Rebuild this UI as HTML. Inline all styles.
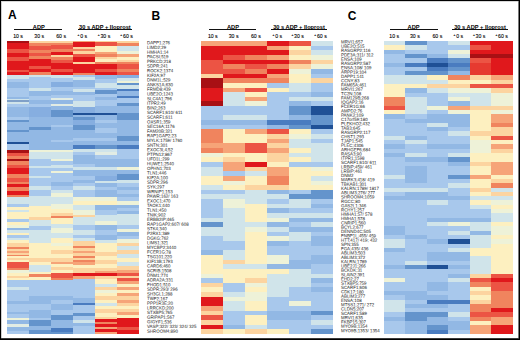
<!DOCTYPE html>
<html><head><meta charset="utf-8"><style>
html,body{margin:0;padding:0;background:#fff;}
body{width:520px;height:340px;position:relative;overflow:hidden;font-family:"Liberation Sans",sans-serif;color:#000;}
.hm{position:absolute;left:0;top:0;filter:blur(0.45px);}
.bd{position:absolute;background:#000;}
.L{position:absolute;font-weight:bold;font-size:12px;line-height:12px;white-space:nowrap;}
.H{position:absolute;top:23.6px;font-weight:bold;font-size:5.7px;line-height:6px;white-space:nowrap;}
.S{position:absolute;top:33.4px;font-size:5.2px;-webkit-text-stroke:0.1px #000;line-height:6px;white-space:nowrap;}
.S sup{font-size:3.2px;vertical-align:2px;line-height:0;margin-right:0.8px;}
.c{transform:translateX(-50%);}
.ln{position:absolute;top:28.6px;height:0.9px;background:#111;}
.lb{position:absolute;top:0;font-size:4.6px;line-height:4px;white-space:nowrap;color:#1a1a1a;transform-origin:0 0;}
.lbw{position:absolute;left:0;top:0;width:520px;height:340px;}
</style></head><body>
<svg class="hm" width="520" height="340" viewBox="0 0 520 340" shape-rendering="crispEdges">
<rect x="7" y="41" width="22.02" height="1.52" fill="#a81014"/>
<rect x="7" y="42.5" width="22.02" height="4.52" fill="#e0181c"/>
<rect x="7" y="47" width="22.02" height="2.02" fill="#e0181c"/>
<rect x="7" y="49" width="22.02" height="4.02" fill="#ec5444"/>
<rect x="7" y="53" width="22.02" height="4.02" fill="#e0181c"/>
<rect x="7" y="57" width="22.02" height="4.02" fill="#ec5444"/>
<rect x="7" y="61" width="22.02" height="2.02" fill="#e0181c"/>
<rect x="7" y="63" width="22.02" height="3.02" fill="#e0181c"/>
<rect x="7" y="66" width="22.02" height="4.02" fill="#e0181c"/>
<rect x="7" y="70" width="22.02" height="2.02" fill="#ec5444"/>
<rect x="7" y="72" width="22.02" height="3.02" fill="#e0181c"/>
<rect x="7" y="75" width="22.02" height="4.02" fill="#d0e4ea"/>
<rect x="7" y="79" width="22.02" height="3.02" fill="#a8c8ec"/>
<rect x="7" y="82" width="22.02" height="6.02" fill="#92b8e4"/>
<rect x="7" y="88" width="22.02" height="9.02" fill="#a8c8ec"/>
<rect x="7" y="97" width="22.02" height="1.52" fill="#92b8e4"/>
<rect x="7" y="98.5" width="22.02" height="1.52" fill="#d0e4ea"/>
<rect x="7" y="100" width="22.02" height="2.02" fill="#7fa0c8"/>
<rect x="7" y="102" width="22.02" height="2.02" fill="#d0e4ea"/>
<rect x="7" y="104" width="22.02" height="3.02" fill="#a8c8ec"/>
<rect x="7" y="107" width="22.02" height="10.02" fill="#92b8e4"/>
<rect x="7" y="117" width="22.02" height="3.02" fill="#a8c8ec"/>
<rect x="7" y="120" width="22.02" height="2.02" fill="#6494cc"/>
<rect x="7" y="122" width="22.02" height="8.02" fill="#92b8e4"/>
<rect x="7" y="130" width="22.02" height="1.52" fill="#6494cc"/>
<rect x="7" y="131.5" width="22.02" height="10.52" fill="#92b8e4"/>
<rect x="7" y="142" width="22.02" height="2.02" fill="#1f5096"/>
<rect x="7" y="144" width="22.02" height="6.02" fill="#a8c8ec"/>
<rect x="7" y="150" width="22.02" height="3.02" fill="#a81014"/>
<rect x="7" y="153" width="22.02" height="3.02" fill="#ec5444"/>
<rect x="7" y="156" width="22.02" height="3.02" fill="#f0845e"/>
<rect x="7" y="159" width="22.02" height="2.02" fill="#a81014"/>
<rect x="7" y="161" width="22.02" height="4.02" fill="#f0845e"/>
<rect x="7" y="165" width="22.02" height="3.02" fill="#ec5444"/>
<rect x="7" y="168" width="22.02" height="6.02" fill="#e0181c"/>
<rect x="7" y="174" width="22.02" height="4.02" fill="#f0845e"/>
<rect x="7" y="178" width="22.02" height="4.02" fill="#ec5444"/>
<rect x="7" y="182" width="22.02" height="2.02" fill="#f0845e"/>
<rect x="7" y="184" width="22.02" height="3.02" fill="#e0181c"/>
<rect x="7" y="187" width="22.02" height="4.02" fill="#f0845e"/>
<rect x="7" y="191" width="22.02" height="4.02" fill="#e0181c"/>
<rect x="7" y="195" width="22.02" height="2.02" fill="#f0845e"/>
<rect x="7" y="197" width="22.02" height="4.02" fill="#d0e4ea"/>
<rect x="7" y="201" width="22.02" height="3.02" fill="#d0e4ea"/>
<rect x="7" y="204" width="22.02" height="3.02" fill="#a8c8ec"/>
<rect x="7" y="207" width="22.02" height="3.02" fill="#fdf0c0"/>
<rect x="7" y="210" width="22.02" height="2.02" fill="#d0e4ea"/>
<rect x="7" y="212" width="22.02" height="7.02" fill="#fdf0c0"/>
<rect x="7" y="219" width="22.02" height="3.02" fill="#a8c8ec"/>
<rect x="7" y="222" width="22.02" height="3.02" fill="#fdf0c0"/>
<rect x="7" y="225" width="22.02" height="3.02" fill="#eef2d8"/>
<rect x="7" y="228" width="22.02" height="2.02" fill="#92b8e4"/>
<rect x="7" y="230" width="22.02" height="3.02" fill="#d0e4ea"/>
<rect x="7" y="233" width="22.02" height="2.02" fill="#fdf0c0"/>
<rect x="7" y="235" width="22.02" height="3.02" fill="#a8c8ec"/>
<rect x="7" y="238" width="22.02" height="2.02" fill="#d0e4ea"/>
<rect x="7" y="240" width="22.02" height="3.02" fill="#fdf0c0"/>
<rect x="7" y="243" width="22.02" height="4.02" fill="#fcd4a0"/>
<rect x="7" y="247" width="22.02" height="2.02" fill="#f0845e"/>
<rect x="7" y="249" width="22.02" height="2.02" fill="#fcd4a0"/>
<rect x="7" y="251" width="22.02" height="2.02" fill="#f6a478"/>
<rect x="7" y="253" width="22.02" height="2.02" fill="#fcd4a0"/>
<rect x="7" y="255" width="22.02" height="1.02" fill="#f0845e"/>
<rect x="7" y="256" width="22.02" height="2.02" fill="#fdf0c0"/>
<rect x="7" y="258" width="22.02" height="2.02" fill="#fcd4a0"/>
<rect x="7" y="260" width="22.02" height="2.02" fill="#fdf0c0"/>
<rect x="7" y="262" width="22.02" height="6.02" fill="#ec5444"/>
<rect x="7" y="268" width="22.02" height="2.02" fill="#f0845e"/>
<rect x="7" y="270" width="22.02" height="3.02" fill="#eef2d8"/>
<rect x="7" y="273" width="22.02" height="3.02" fill="#fdf0c0"/>
<rect x="7" y="276" width="22.02" height="2.02" fill="#fcd4a0"/>
<rect x="7" y="278" width="22.02" height="2.02" fill="#fdf0c0"/>
<rect x="7" y="280" width="22.02" height="4.02" fill="#a8c8ec"/>
<rect x="7" y="284" width="22.02" height="3.02" fill="#a8c8ec"/>
<rect x="7" y="287" width="22.02" height="3.02" fill="#d0e4ea"/>
<rect x="7" y="290" width="22.02" height="11.02" fill="#a8c8ec"/>
<rect x="7" y="301" width="22.02" height="3.02" fill="#92b8e4"/>
<rect x="7" y="304" width="22.02" height="8.02" fill="#a8c8ec"/>
<rect x="7" y="312" width="22.02" height="2.02" fill="#92b8e4"/>
<rect x="7" y="314" width="22.02" height="4.02" fill="#a8c8ec"/>
<rect x="7" y="318" width="22.02" height="2.02" fill="#eef2d8"/>
<rect x="7" y="320" width="22.02" height="4.02" fill="#92b8e4"/>
<rect x="7" y="324" width="22.02" height="3.02" fill="#e2ece4"/>
<rect x="7" y="327" width="22.02" height="4.02" fill="#92b8e4"/>
<rect x="7" y="331" width="22.02" height="3.02" fill="#a8c8ec"/>
<rect x="29" y="41" width="22.02" height="2.02" fill="#fcd4a0"/>
<rect x="29" y="43" width="22.02" height="3.02" fill="#f0845e"/>
<rect x="29" y="46" width="22.02" height="4.02" fill="#ec5444"/>
<rect x="29" y="50" width="22.02" height="3.02" fill="#f0845e"/>
<rect x="29" y="53" width="22.02" height="3.02" fill="#ec5444"/>
<rect x="29" y="56" width="22.02" height="3.02" fill="#f0845e"/>
<rect x="29" y="59" width="22.02" height="7.02" fill="#e0181c"/>
<rect x="29" y="66" width="22.02" height="3.02" fill="#ec5444"/>
<rect x="29" y="69" width="22.02" height="3.02" fill="#e0181c"/>
<rect x="29" y="72" width="22.02" height="3.02" fill="#f0845e"/>
<rect x="29" y="75" width="22.02" height="2.02" fill="#d0e4ea"/>
<rect x="29" y="77" width="22.02" height="5.02" fill="#a8c8ec"/>
<rect x="29" y="82" width="22.02" height="6.02" fill="#a8c8ec"/>
<rect x="29" y="88" width="22.02" height="3.02" fill="#d0e4ea"/>
<rect x="29" y="91" width="22.02" height="5.02" fill="#92b8e4"/>
<rect x="29" y="96" width="22.02" height="4.02" fill="#a8c8ec"/>
<rect x="29" y="100" width="22.02" height="4.02" fill="#92b8e4"/>
<rect x="29" y="104" width="22.02" height="3.02" fill="#a8c8ec"/>
<rect x="29" y="107" width="22.02" height="10.02" fill="#86aee0"/>
<rect x="29" y="117" width="22.02" height="10.02" fill="#92b8e4"/>
<rect x="29" y="127" width="22.02" height="3.02" fill="#6494cc"/>
<rect x="29" y="130" width="22.02" height="20.02" fill="#92b8e4"/>
<rect x="29" y="150" width="22.02" height="2.02" fill="#eef2d8"/>
<rect x="29" y="152" width="22.02" height="7.02" fill="#d0e4ea"/>
<rect x="29" y="159" width="22.02" height="7.02" fill="#a8c8ec"/>
<rect x="29" y="166" width="22.02" height="2.02" fill="#d0e4ea"/>
<rect x="29" y="168" width="22.02" height="8.02" fill="#a8c8ec"/>
<rect x="29" y="176" width="22.02" height="2.02" fill="#d0e4ea"/>
<rect x="29" y="178" width="22.02" height="4.02" fill="#a8c8ec"/>
<rect x="29" y="182" width="22.02" height="4.02" fill="#a8c8ec"/>
<rect x="29" y="186" width="22.02" height="4.02" fill="#d0e4ea"/>
<rect x="29" y="190" width="22.02" height="6.02" fill="#a8c8ec"/>
<rect x="29" y="196" width="22.02" height="5.02" fill="#d0e4ea"/>
<rect x="29" y="201" width="22.02" height="5.02" fill="#d0e4ea"/>
<rect x="29" y="206" width="22.02" height="11.02" fill="#fdf0c0"/>
<rect x="29" y="217" width="22.02" height="3.02" fill="#fcd4a0"/>
<rect x="29" y="220" width="22.02" height="6.02" fill="#d0e4ea"/>
<rect x="29" y="226" width="22.02" height="4.02" fill="#a8c8ec"/>
<rect x="29" y="230" width="22.02" height="13.02" fill="#d0e4ea"/>
<rect x="29" y="243" width="22.02" height="15.02" fill="#fdf0c0"/>
<rect x="29" y="258" width="22.02" height="4.02" fill="#fcd4a0"/>
<rect x="29" y="262" width="22.02" height="3.02" fill="#fdf0c0"/>
<rect x="29" y="265" width="22.02" height="7.02" fill="#d0e4ea"/>
<rect x="29" y="272" width="22.02" height="2.02" fill="#fdf0c0"/>
<rect x="29" y="274" width="22.02" height="3.02" fill="#f0845e"/>
<rect x="29" y="277" width="22.02" height="3.02" fill="#fdf0c0"/>
<rect x="29" y="280" width="22.02" height="4.02" fill="#a8c8ec"/>
<rect x="29" y="284" width="22.02" height="12.02" fill="#a8c8ec"/>
<rect x="29" y="296" width="22.02" height="8.02" fill="#92b8e4"/>
<rect x="29" y="304" width="22.02" height="6.02" fill="#a8c8ec"/>
<rect x="29" y="310" width="22.02" height="8.02" fill="#92b8e4"/>
<rect x="29" y="318" width="22.02" height="2.02" fill="#a8c8ec"/>
<rect x="29" y="320" width="22.02" height="6.02" fill="#6494cc"/>
<rect x="29" y="326" width="22.02" height="4.02" fill="#92b8e4"/>
<rect x="29" y="330" width="22.02" height="4.02" fill="#6494cc"/>
<rect x="51" y="41" width="22.02" height="2.02" fill="#fcd4a0"/>
<rect x="51" y="43" width="22.02" height="2.02" fill="#f0845e"/>
<rect x="51" y="45" width="22.02" height="4.02" fill="#ec5444"/>
<rect x="51" y="49" width="22.02" height="3.02" fill="#f0845e"/>
<rect x="51" y="52" width="22.02" height="3.02" fill="#e0181c"/>
<rect x="51" y="55" width="22.02" height="2.02" fill="#fcd4a0"/>
<rect x="51" y="57" width="22.02" height="3.02" fill="#f0845e"/>
<rect x="51" y="60" width="22.02" height="3.02" fill="#ec5444"/>
<rect x="51" y="63" width="22.02" height="6.02" fill="#e0181c"/>
<rect x="51" y="69" width="22.02" height="3.02" fill="#ec5444"/>
<rect x="51" y="72" width="22.02" height="3.02" fill="#e0181c"/>
<rect x="51" y="75" width="22.02" height="3.02" fill="#d0e4ea"/>
<rect x="51" y="78" width="22.02" height="4.02" fill="#a8c8ec"/>
<rect x="51" y="82" width="22.02" height="5.02" fill="#86aee0"/>
<rect x="51" y="87" width="22.02" height="4.02" fill="#a8c8ec"/>
<rect x="51" y="91" width="22.02" height="4.02" fill="#92b8e4"/>
<rect x="51" y="95" width="22.02" height="3.02" fill="#a8c8ec"/>
<rect x="51" y="98" width="22.02" height="2.02" fill="#e2ece4"/>
<rect x="51" y="100" width="22.02" height="4.02" fill="#92b8e4"/>
<rect x="51" y="104" width="22.02" height="2.02" fill="#e2ece4"/>
<rect x="51" y="106" width="22.02" height="4.02" fill="#92b8e4"/>
<rect x="51" y="110" width="22.02" height="7.02" fill="#6494cc"/>
<rect x="51" y="117" width="22.02" height="8.02" fill="#92b8e4"/>
<rect x="51" y="125" width="22.02" height="2.02" fill="#a8c8ec"/>
<rect x="51" y="127" width="22.02" height="13.02" fill="#92b8e4"/>
<rect x="51" y="140" width="22.02" height="2.02" fill="#a8c8ec"/>
<rect x="51" y="142" width="22.02" height="8.02" fill="#92b8e4"/>
<rect x="51" y="150" width="22.02" height="2.02" fill="#eef2d8"/>
<rect x="51" y="152" width="22.02" height="7.02" fill="#d0e4ea"/>
<rect x="51" y="159" width="22.02" height="2.02" fill="#eef2d8"/>
<rect x="51" y="161" width="22.02" height="4.02" fill="#a8c8ec"/>
<rect x="51" y="165" width="22.02" height="3.02" fill="#d0e4ea"/>
<rect x="51" y="168" width="22.02" height="3.02" fill="#a8c8ec"/>
<rect x="51" y="171" width="22.02" height="2.02" fill="#eef2d8"/>
<rect x="51" y="173" width="22.02" height="9.02" fill="#a8c8ec"/>
<rect x="51" y="182" width="22.02" height="4.02" fill="#92b8e4"/>
<rect x="51" y="186" width="22.02" height="4.02" fill="#a8c8ec"/>
<rect x="51" y="190" width="22.02" height="3.02" fill="#d0e4ea"/>
<rect x="51" y="193" width="22.02" height="4.02" fill="#eef2d8"/>
<rect x="51" y="197" width="22.02" height="4.02" fill="#d0e4ea"/>
<rect x="51" y="201" width="22.02" height="3.02" fill="#d0e4ea"/>
<rect x="51" y="204" width="22.02" height="5.02" fill="#eef2d8"/>
<rect x="51" y="209" width="22.02" height="4.02" fill="#fdf0c0"/>
<rect x="51" y="213" width="22.02" height="3.02" fill="#fcd4a0"/>
<rect x="51" y="216" width="22.02" height="2.02" fill="#f0845e"/>
<rect x="51" y="218" width="22.02" height="6.02" fill="#fdf0c0"/>
<rect x="51" y="224" width="22.02" height="4.02" fill="#d0e4ea"/>
<rect x="51" y="228" width="22.02" height="5.02" fill="#eef2d8"/>
<rect x="51" y="233" width="22.02" height="5.02" fill="#d0e4ea"/>
<rect x="51" y="238" width="22.02" height="5.02" fill="#fdf0c0"/>
<rect x="51" y="243" width="22.02" height="3.02" fill="#eef2d8"/>
<rect x="51" y="246" width="22.02" height="4.02" fill="#fdf0c0"/>
<rect x="51" y="250" width="22.02" height="4.02" fill="#fcd4a0"/>
<rect x="51" y="254" width="22.02" height="4.02" fill="#fdf0c0"/>
<rect x="51" y="258" width="22.02" height="4.02" fill="#fcd4a0"/>
<rect x="51" y="262" width="22.02" height="2.02" fill="#f6a478"/>
<rect x="51" y="264" width="22.02" height="3.02" fill="#fdf0c0"/>
<rect x="51" y="267" width="22.02" height="3.02" fill="#fcd4a0"/>
<rect x="51" y="270" width="22.02" height="3.02" fill="#fdf0c0"/>
<rect x="51" y="273" width="22.02" height="5.02" fill="#ec5444"/>
<rect x="51" y="278" width="22.02" height="2.02" fill="#f0845e"/>
<rect x="51" y="280" width="22.02" height="4.02" fill="#a8c8ec"/>
<rect x="51" y="284" width="22.02" height="12.02" fill="#a8c8ec"/>
<rect x="51" y="296" width="22.02" height="4.02" fill="#92b8e4"/>
<rect x="51" y="300" width="22.02" height="4.02" fill="#a8c8ec"/>
<rect x="51" y="304" width="22.02" height="6.02" fill="#92b8e4"/>
<rect x="51" y="310" width="22.02" height="5.02" fill="#a8c8ec"/>
<rect x="51" y="315" width="22.02" height="5.02" fill="#6494cc"/>
<rect x="51" y="320" width="22.02" height="8.02" fill="#92b8e4"/>
<rect x="51" y="328" width="22.02" height="4.02" fill="#4a7cc0"/>
<rect x="51" y="332" width="22.02" height="2.02" fill="#6494cc"/>
<rect x="73" y="41" width="22.02" height="1.02" fill="#f6a478"/>
<rect x="73" y="42" width="22.02" height="5.02" fill="#e0181c"/>
<rect x="73" y="47" width="22.02" height="2.02" fill="#fcd4a0"/>
<rect x="73" y="49" width="22.02" height="2.02" fill="#f0845e"/>
<rect x="73" y="51" width="22.02" height="3.02" fill="#fcd4a0"/>
<rect x="73" y="54" width="22.02" height="3.02" fill="#ec5444"/>
<rect x="73" y="57" width="22.02" height="5.02" fill="#e0181c"/>
<rect x="73" y="62" width="22.02" height="2.02" fill="#fcd4a0"/>
<rect x="73" y="64" width="22.02" height="9.02" fill="#e0181c"/>
<rect x="73" y="73" width="22.02" height="2.02" fill="#f0845e"/>
<rect x="73" y="75" width="22.02" height="2.02" fill="#a8c8ec"/>
<rect x="73" y="77" width="22.02" height="3.02" fill="#d0e4ea"/>
<rect x="73" y="80" width="22.02" height="7.02" fill="#92b8e4"/>
<rect x="73" y="87" width="22.02" height="2.02" fill="#a8c8ec"/>
<rect x="73" y="89" width="22.02" height="3.02" fill="#d0e4ea"/>
<rect x="73" y="92" width="22.02" height="3.02" fill="#92b8e4"/>
<rect x="73" y="95" width="22.02" height="6.02" fill="#a8c8ec"/>
<rect x="73" y="101" width="22.02" height="6.02" fill="#d0e4ea"/>
<rect x="73" y="107" width="22.02" height="6.02" fill="#86aee0"/>
<rect x="73" y="113" width="22.02" height="2.02" fill="#1f5096"/>
<rect x="73" y="115" width="22.02" height="2.02" fill="#92b8e4"/>
<rect x="73" y="117" width="22.02" height="3.02" fill="#6494cc"/>
<rect x="73" y="120" width="22.02" height="5.02" fill="#86aee0"/>
<rect x="73" y="125" width="22.02" height="5.02" fill="#6494cc"/>
<rect x="73" y="130" width="22.02" height="8.02" fill="#92b8e4"/>
<rect x="73" y="138" width="22.02" height="3.02" fill="#a8c8ec"/>
<rect x="73" y="141" width="22.02" height="4.02" fill="#92b8e4"/>
<rect x="73" y="145" width="22.02" height="4.02" fill="#4a7cc0"/>
<rect x="73" y="149" width="22.02" height="3.02" fill="#d0e4ea"/>
<rect x="73" y="152" width="22.02" height="3.02" fill="#a8c8ec"/>
<rect x="73" y="155" width="22.02" height="4.02" fill="#92b8e4"/>
<rect x="73" y="159" width="22.02" height="5.02" fill="#92b8e4"/>
<rect x="73" y="164" width="22.02" height="3.02" fill="#a8c8ec"/>
<rect x="73" y="167" width="22.02" height="3.02" fill="#d0e4ea"/>
<rect x="73" y="170" width="22.02" height="6.02" fill="#92b8e4"/>
<rect x="73" y="176" width="22.02" height="4.02" fill="#a8c8ec"/>
<rect x="73" y="180" width="22.02" height="3.02" fill="#92b8e4"/>
<rect x="73" y="183" width="22.02" height="3.02" fill="#a8c8ec"/>
<rect x="73" y="186" width="22.02" height="4.02" fill="#d0e4ea"/>
<rect x="73" y="190" width="22.02" height="7.02" fill="#a8c8ec"/>
<rect x="73" y="197" width="22.02" height="4.02" fill="#eef2d8"/>
<rect x="73" y="201" width="22.02" height="4.02" fill="#fdf0c0"/>
<rect x="73" y="205" width="22.02" height="5.02" fill="#d0e4ea"/>
<rect x="73" y="210" width="22.02" height="5.02" fill="#eef2d8"/>
<rect x="73" y="215" width="22.02" height="2.02" fill="#fcd4a0"/>
<rect x="73" y="217" width="22.02" height="8.02" fill="#d0e4ea"/>
<rect x="73" y="225" width="22.02" height="5.02" fill="#a8c8ec"/>
<rect x="73" y="230" width="22.02" height="5.02" fill="#d0e4ea"/>
<rect x="73" y="235" width="22.02" height="3.02" fill="#a8c8ec"/>
<rect x="73" y="238" width="22.02" height="3.02" fill="#d0e4ea"/>
<rect x="73" y="241" width="22.02" height="2.02" fill="#fcd4a0"/>
<rect x="73" y="243" width="22.02" height="3.02" fill="#fcd4a0"/>
<rect x="73" y="246" width="22.02" height="2.02" fill="#f0845e"/>
<rect x="73" y="248" width="22.02" height="3.02" fill="#fcd4a0"/>
<rect x="73" y="251" width="22.02" height="2.02" fill="#f6a478"/>
<rect x="73" y="253" width="22.02" height="3.02" fill="#fcd4a0"/>
<rect x="73" y="256" width="22.02" height="2.02" fill="#f0845e"/>
<rect x="73" y="258" width="22.02" height="2.02" fill="#fcd4a0"/>
<rect x="73" y="260" width="22.02" height="2.02" fill="#f0845e"/>
<rect x="73" y="262" width="22.02" height="3.02" fill="#f6a478"/>
<rect x="73" y="265" width="22.02" height="3.02" fill="#fdf0c0"/>
<rect x="73" y="268" width="22.02" height="5.02" fill="#fcd4a0"/>
<rect x="73" y="273" width="22.02" height="3.02" fill="#e0181c"/>
<rect x="73" y="276" width="22.02" height="3.02" fill="#f6a478"/>
<rect x="73" y="279" width="22.02" height="5.02" fill="#a8c8ec"/>
<rect x="73" y="284" width="22.02" height="14.02" fill="#a8c8ec"/>
<rect x="73" y="298" width="22.02" height="5.02" fill="#92b8e4"/>
<rect x="73" y="303" width="22.02" height="2.02" fill="#4a7cc0"/>
<rect x="73" y="305" width="22.02" height="8.02" fill="#a8c8ec"/>
<rect x="73" y="313" width="22.02" height="3.02" fill="#6494cc"/>
<rect x="73" y="316" width="22.02" height="4.02" fill="#a8c8ec"/>
<rect x="73" y="320" width="22.02" height="3.02" fill="#d0e4ea"/>
<rect x="73" y="323" width="22.02" height="3.02" fill="#92b8e4"/>
<rect x="73" y="326" width="22.02" height="8.02" fill="#a8c8ec"/>
<rect x="95" y="41" width="22.02" height="1.02" fill="#fcd4a0"/>
<rect x="95" y="42" width="22.02" height="4.02" fill="#ec5444"/>
<rect x="95" y="46" width="22.02" height="6.02" fill="#fdf0c0"/>
<rect x="95" y="52" width="22.02" height="2.02" fill="#f6a478"/>
<rect x="95" y="54" width="22.02" height="3.02" fill="#f0845e"/>
<rect x="95" y="57" width="22.02" height="2.02" fill="#fcd4a0"/>
<rect x="95" y="59" width="22.02" height="3.02" fill="#fdf0c0"/>
<rect x="95" y="62" width="22.02" height="2.02" fill="#f0845e"/>
<rect x="95" y="64" width="22.02" height="5.02" fill="#e0181c"/>
<rect x="95" y="69" width="22.02" height="3.02" fill="#ec5444"/>
<rect x="95" y="72" width="22.02" height="3.02" fill="#e0181c"/>
<rect x="95" y="75" width="22.02" height="4.02" fill="#92b8e4"/>
<rect x="95" y="79" width="22.02" height="4.02" fill="#a8c8ec"/>
<rect x="95" y="83" width="22.02" height="5.02" fill="#d0e4ea"/>
<rect x="95" y="88" width="22.02" height="2.02" fill="#a8c8ec"/>
<rect x="95" y="90" width="22.02" height="4.02" fill="#6494cc"/>
<rect x="95" y="94" width="22.02" height="3.02" fill="#a8c8ec"/>
<rect x="95" y="97" width="22.02" height="3.02" fill="#92b8e4"/>
<rect x="95" y="100" width="22.02" height="6.02" fill="#a8c8ec"/>
<rect x="95" y="106" width="22.02" height="7.02" fill="#92b8e4"/>
<rect x="95" y="113" width="22.02" height="2.02" fill="#1f5096"/>
<rect x="95" y="115" width="22.02" height="2.02" fill="#92b8e4"/>
<rect x="95" y="117" width="22.02" height="3.02" fill="#92b8e4"/>
<rect x="95" y="120" width="22.02" height="3.02" fill="#a8c8ec"/>
<rect x="95" y="123" width="22.02" height="5.02" fill="#92b8e4"/>
<rect x="95" y="128" width="22.02" height="5.02" fill="#a8c8ec"/>
<rect x="95" y="133" width="22.02" height="5.02" fill="#92b8e4"/>
<rect x="95" y="138" width="22.02" height="3.02" fill="#a8c8ec"/>
<rect x="95" y="141" width="22.02" height="4.02" fill="#92b8e4"/>
<rect x="95" y="145" width="22.02" height="4.02" fill="#6494cc"/>
<rect x="95" y="149" width="22.02" height="3.02" fill="#d0e4ea"/>
<rect x="95" y="152" width="22.02" height="3.02" fill="#e2ece4"/>
<rect x="95" y="155" width="22.02" height="4.02" fill="#a8c8ec"/>
<rect x="95" y="159" width="22.02" height="8.02" fill="#92b8e4"/>
<rect x="95" y="167" width="22.02" height="3.02" fill="#d0e4ea"/>
<rect x="95" y="170" width="22.02" height="6.02" fill="#92b8e4"/>
<rect x="95" y="176" width="22.02" height="5.02" fill="#86aee0"/>
<rect x="95" y="181" width="22.02" height="2.02" fill="#d0e4ea"/>
<rect x="95" y="183" width="22.02" height="4.02" fill="#92b8e4"/>
<rect x="95" y="187" width="22.02" height="3.02" fill="#a8c8ec"/>
<rect x="95" y="190" width="22.02" height="7.02" fill="#92b8e4"/>
<rect x="95" y="197" width="22.02" height="4.02" fill="#eef2d8"/>
<rect x="95" y="201" width="22.02" height="4.02" fill="#fdf0c0"/>
<rect x="95" y="205" width="22.02" height="5.02" fill="#92b8e4"/>
<rect x="95" y="210" width="22.02" height="5.02" fill="#a8c8ec"/>
<rect x="95" y="215" width="22.02" height="6.02" fill="#d0e4ea"/>
<rect x="95" y="221" width="22.02" height="4.02" fill="#eef2d8"/>
<rect x="95" y="225" width="22.02" height="5.02" fill="#92b8e4"/>
<rect x="95" y="230" width="22.02" height="5.02" fill="#a8c8ec"/>
<rect x="95" y="235" width="22.02" height="5.02" fill="#92b8e4"/>
<rect x="95" y="240" width="22.02" height="3.02" fill="#d0e4ea"/>
<rect x="95" y="243" width="22.02" height="9.02" fill="#fdf0c0"/>
<rect x="95" y="252" width="22.02" height="4.02" fill="#fcd4a0"/>
<rect x="95" y="256" width="22.02" height="4.02" fill="#fdf0c0"/>
<rect x="95" y="260" width="22.02" height="4.02" fill="#fcd4a0"/>
<rect x="95" y="264" width="22.02" height="4.02" fill="#fdf0c0"/>
<rect x="95" y="268" width="22.02" height="3.02" fill="#fcd4a0"/>
<rect x="95" y="271" width="22.02" height="2.02" fill="#f6a478"/>
<rect x="95" y="273" width="22.02" height="3.02" fill="#e0181c"/>
<rect x="95" y="276" width="22.02" height="3.02" fill="#fcd4a0"/>
<rect x="95" y="279" width="22.02" height="5.02" fill="#fdf0c0"/>
<rect x="95" y="284" width="22.02" height="3.02" fill="#d0e4ea"/>
<rect x="95" y="287" width="22.02" height="3.02" fill="#fcd4a0"/>
<rect x="95" y="290" width="22.02" height="3.02" fill="#eef2d8"/>
<rect x="95" y="293" width="22.02" height="3.02" fill="#fdf0c0"/>
<rect x="95" y="296" width="22.02" height="4.02" fill="#fcd4a0"/>
<rect x="95" y="300" width="22.02" height="3.02" fill="#fdf0c0"/>
<rect x="95" y="303" width="22.02" height="3.02" fill="#d0e4ea"/>
<rect x="95" y="306" width="22.02" height="3.02" fill="#fdf0c0"/>
<rect x="95" y="309" width="22.02" height="4.02" fill="#fcd4a0"/>
<rect x="95" y="313" width="22.02" height="4.02" fill="#fdf0c0"/>
<rect x="95" y="317" width="22.02" height="2.02" fill="#fcd4a0"/>
<rect x="95" y="319" width="22.02" height="3.02" fill="#e0181c"/>
<rect x="95" y="322" width="22.02" height="2.02" fill="#f0845e"/>
<rect x="95" y="324" width="22.02" height="3.02" fill="#e0181c"/>
<rect x="95" y="327" width="22.02" height="2.02" fill="#f6a478"/>
<rect x="95" y="329" width="22.02" height="3.02" fill="#e0181c"/>
<rect x="95" y="332" width="22.02" height="2.02" fill="#f6a478"/>
<rect x="117" y="41" width="22.02" height="1.52" fill="#fcd4a0"/>
<rect x="117" y="42.5" width="22.02" height="3.52" fill="#f0845e"/>
<rect x="117" y="46" width="22.02" height="5.02" fill="#d0e4ea"/>
<rect x="117" y="51" width="22.02" height="3.02" fill="#eef2d8"/>
<rect x="117" y="54" width="22.02" height="3.02" fill="#f6a478"/>
<rect x="117" y="57" width="22.02" height="3.02" fill="#fdf0c0"/>
<rect x="117" y="60" width="22.02" height="2.02" fill="#fcd4a0"/>
<rect x="117" y="62" width="22.02" height="2.02" fill="#f0845e"/>
<rect x="117" y="64" width="22.02" height="5.02" fill="#ec5444"/>
<rect x="117" y="69" width="22.02" height="3.02" fill="#f0845e"/>
<rect x="117" y="72" width="22.02" height="3.02" fill="#ec5444"/>
<rect x="117" y="75" width="22.02" height="3.02" fill="#86aee0"/>
<rect x="117" y="78" width="22.02" height="3.02" fill="#d0e4ea"/>
<rect x="117" y="81" width="22.02" height="2.02" fill="#eef2d8"/>
<rect x="117" y="83" width="22.02" height="2.02" fill="#6494cc"/>
<rect x="117" y="85" width="22.02" height="4.02" fill="#d0e4ea"/>
<rect x="117" y="89" width="22.02" height="2.02" fill="#4a7cc0"/>
<rect x="117" y="91" width="22.02" height="5.02" fill="#92b8e4"/>
<rect x="117" y="96" width="22.02" height="2.02" fill="#4a7cc0"/>
<rect x="117" y="98" width="22.02" height="5.02" fill="#a8c8ec"/>
<rect x="117" y="103" width="22.02" height="3.02" fill="#6494cc"/>
<rect x="117" y="106" width="22.02" height="7.02" fill="#92b8e4"/>
<rect x="117" y="113" width="22.02" height="4.02" fill="#6494cc"/>
<rect x="117" y="117" width="22.02" height="3.02" fill="#6494cc"/>
<rect x="117" y="120" width="22.02" height="16.02" fill="#92b8e4"/>
<rect x="117" y="136" width="22.02" height="5.02" fill="#6494cc"/>
<rect x="117" y="141" width="22.02" height="4.02" fill="#92b8e4"/>
<rect x="117" y="145" width="22.02" height="4.02" fill="#4a7cc0"/>
<rect x="117" y="149" width="22.02" height="10.02" fill="#a8c8ec"/>
<rect x="117" y="159" width="22.02" height="8.02" fill="#92b8e4"/>
<rect x="117" y="167" width="22.02" height="3.02" fill="#eef2d8"/>
<rect x="117" y="170" width="22.02" height="4.02" fill="#92b8e4"/>
<rect x="117" y="174" width="22.02" height="6.02" fill="#6494cc"/>
<rect x="117" y="180" width="22.02" height="3.02" fill="#d0e4ea"/>
<rect x="117" y="183" width="22.02" height="4.02" fill="#a8c8ec"/>
<rect x="117" y="187" width="22.02" height="3.02" fill="#92b8e4"/>
<rect x="117" y="190" width="22.02" height="4.02" fill="#a8c8ec"/>
<rect x="117" y="194" width="22.02" height="3.02" fill="#92b8e4"/>
<rect x="117" y="197" width="22.02" height="4.02" fill="#a8c8ec"/>
<rect x="117" y="201" width="22.02" height="4.02" fill="#eef2d8"/>
<rect x="117" y="205" width="22.02" height="3.02" fill="#92b8e4"/>
<rect x="117" y="208" width="22.02" height="3.02" fill="#a8c8ec"/>
<rect x="117" y="211" width="22.02" height="3.02" fill="#92b8e4"/>
<rect x="117" y="214" width="22.02" height="11.02" fill="#d0e4ea"/>
<rect x="117" y="225" width="22.02" height="4.02" fill="#a8c8ec"/>
<rect x="117" y="229" width="22.02" height="3.02" fill="#eef2d8"/>
<rect x="117" y="232" width="22.02" height="4.02" fill="#92b8e4"/>
<rect x="117" y="236" width="22.02" height="3.02" fill="#a8c8ec"/>
<rect x="117" y="239" width="22.02" height="4.02" fill="#eef2d8"/>
<rect x="117" y="243" width="22.02" height="3.02" fill="#fcd4a0"/>
<rect x="117" y="246" width="22.02" height="4.02" fill="#d0e4ea"/>
<rect x="117" y="250" width="22.02" height="4.02" fill="#fcd4a0"/>
<rect x="117" y="254" width="22.02" height="4.02" fill="#d0e4ea"/>
<rect x="117" y="258" width="22.02" height="4.02" fill="#fdf0c0"/>
<rect x="117" y="262" width="22.02" height="4.02" fill="#d0e4ea"/>
<rect x="117" y="266" width="22.02" height="4.02" fill="#fcd4a0"/>
<rect x="117" y="270" width="22.02" height="3.02" fill="#f6a478"/>
<rect x="117" y="273" width="22.02" height="3.02" fill="#ec5444"/>
<rect x="117" y="276" width="22.02" height="2.02" fill="#fcd4a0"/>
<rect x="117" y="278" width="22.02" height="3.02" fill="#ec5444"/>
<rect x="117" y="281" width="22.02" height="3.02" fill="#f6a478"/>
<rect x="117" y="284" width="22.02" height="3.02" fill="#fdf0c0"/>
<rect x="117" y="287" width="22.02" height="3.02" fill="#f6a478"/>
<rect x="117" y="290" width="22.02" height="3.02" fill="#fdf0c0"/>
<rect x="117" y="293" width="22.02" height="3.02" fill="#f6a478"/>
<rect x="117" y="296" width="22.02" height="4.02" fill="#fcd4a0"/>
<rect x="117" y="300" width="22.02" height="3.02" fill="#f6a478"/>
<rect x="117" y="303" width="22.02" height="3.02" fill="#fcd4a0"/>
<rect x="117" y="306" width="22.02" height="3.02" fill="#fdf0c0"/>
<rect x="117" y="309" width="22.02" height="3.02" fill="#fcd4a0"/>
<rect x="117" y="312" width="22.02" height="3.02" fill="#f6a478"/>
<rect x="117" y="315" width="22.02" height="3.02" fill="#fdf0c0"/>
<rect x="117" y="318" width="22.02" height="9.02" fill="#e0181c"/>
<rect x="117" y="327" width="22.02" height="3.02" fill="#ec5444"/>
<rect x="117" y="330" width="22.02" height="4.02" fill="#e0181c"/>
<rect x="201" y="41" width="22.02" height="4.67" fill="#f6a478"/>
<rect x="223" y="41" width="22.02" height="4.67" fill="#f6a478"/>
<rect x="245" y="41" width="22.02" height="4.67" fill="#f6a478"/>
<rect x="267" y="41" width="22.02" height="4.67" fill="#e0181c"/>
<rect x="289" y="41" width="22.02" height="4.67" fill="#ec5444"/>
<rect x="311" y="41" width="22.02" height="4.67" fill="#d0e4ea"/>
<rect x="201" y="45.65" width="22.02" height="4.67" fill="#e0181c"/>
<rect x="223" y="45.65" width="22.02" height="4.67" fill="#e0181c"/>
<rect x="245" y="45.65" width="22.02" height="4.67" fill="#e0181c"/>
<rect x="267" y="45.65" width="22.02" height="4.67" fill="#f6a478"/>
<rect x="289" y="45.65" width="22.02" height="4.67" fill="#fdf0c0"/>
<rect x="311" y="45.65" width="22.02" height="4.67" fill="#a8c8ec"/>
<rect x="201" y="50.3" width="22.02" height="4.67" fill="#e0181c"/>
<rect x="223" y="50.3" width="22.02" height="4.67" fill="#e0181c"/>
<rect x="245" y="50.3" width="22.02" height="4.67" fill="#e0181c"/>
<rect x="267" y="50.3" width="22.02" height="4.67" fill="#e0181c"/>
<rect x="289" y="50.3" width="22.02" height="4.67" fill="#fcd4a0"/>
<rect x="311" y="50.3" width="22.02" height="4.67" fill="#d0e4ea"/>
<rect x="201" y="54.95" width="22.02" height="4.67" fill="#e0181c"/>
<rect x="223" y="54.95" width="22.02" height="4.67" fill="#ec5444"/>
<rect x="245" y="54.95" width="22.02" height="4.67" fill="#f0845e"/>
<rect x="267" y="54.95" width="22.02" height="4.67" fill="#f6a478"/>
<rect x="289" y="54.95" width="22.02" height="4.67" fill="#fdf0c0"/>
<rect x="311" y="54.95" width="22.02" height="4.67" fill="#eef2d8"/>
<rect x="201" y="59.6" width="22.02" height="4.67" fill="#ec5444"/>
<rect x="223" y="59.6" width="22.02" height="4.67" fill="#e0181c"/>
<rect x="245" y="59.6" width="22.02" height="4.67" fill="#e0181c"/>
<rect x="267" y="59.6" width="22.02" height="4.67" fill="#e0181c"/>
<rect x="289" y="59.6" width="22.02" height="4.67" fill="#f0845e"/>
<rect x="311" y="59.6" width="22.02" height="4.67" fill="#fcd4a0"/>
<rect x="201" y="64.25" width="22.02" height="4.67" fill="#ec5444"/>
<rect x="223" y="64.25" width="22.02" height="4.67" fill="#f0845e"/>
<rect x="245" y="64.25" width="22.02" height="4.67" fill="#ec5444"/>
<rect x="267" y="64.25" width="22.02" height="4.67" fill="#f0845e"/>
<rect x="289" y="64.25" width="22.02" height="4.67" fill="#fcd4a0"/>
<rect x="311" y="64.25" width="22.02" height="4.67" fill="#eef2d8"/>
<rect x="201" y="68.9" width="22.02" height="4.67" fill="#ec5444"/>
<rect x="223" y="68.9" width="22.02" height="4.67" fill="#ec5444"/>
<rect x="245" y="68.9" width="22.02" height="4.67" fill="#f0845e"/>
<rect x="267" y="68.9" width="22.02" height="4.67" fill="#e0181c"/>
<rect x="289" y="68.9" width="22.02" height="4.67" fill="#eef2d8"/>
<rect x="311" y="68.9" width="22.02" height="4.67" fill="#92b8e4"/>
<rect x="201" y="73.56" width="22.02" height="4.67" fill="#fcd4a0"/>
<rect x="223" y="73.56" width="22.02" height="4.67" fill="#e0181c"/>
<rect x="245" y="73.56" width="22.02" height="4.67" fill="#e0181c"/>
<rect x="267" y="73.56" width="22.02" height="4.67" fill="#f6a478"/>
<rect x="289" y="73.56" width="22.02" height="4.67" fill="#fdf0c0"/>
<rect x="311" y="73.56" width="22.02" height="4.67" fill="#a8c8ec"/>
<rect x="201" y="78.21" width="22.02" height="4.67" fill="#a81014"/>
<rect x="223" y="78.21" width="22.02" height="4.67" fill="#f0845e"/>
<rect x="245" y="78.21" width="22.02" height="4.67" fill="#f0845e"/>
<rect x="267" y="78.21" width="22.02" height="4.67" fill="#f0845e"/>
<rect x="289" y="78.21" width="22.02" height="4.67" fill="#fdf0c0"/>
<rect x="311" y="78.21" width="22.02" height="4.67" fill="#fcd4a0"/>
<rect x="201" y="82.86" width="22.02" height="4.67" fill="#a81014"/>
<rect x="223" y="82.86" width="22.02" height="4.67" fill="#fdf0c0"/>
<rect x="245" y="82.86" width="22.02" height="4.67" fill="#fdf0c0"/>
<rect x="267" y="82.86" width="22.02" height="4.67" fill="#a8c8ec"/>
<rect x="289" y="82.86" width="22.02" height="4.67" fill="#d0e4ea"/>
<rect x="311" y="82.86" width="22.02" height="4.67" fill="#a8c8ec"/>
<rect x="201" y="87.51" width="22.02" height="4.67" fill="#e0181c"/>
<rect x="223" y="87.51" width="22.02" height="4.67" fill="#f6a478"/>
<rect x="245" y="87.51" width="22.02" height="4.67" fill="#ec5444"/>
<rect x="267" y="87.51" width="22.02" height="4.67" fill="#fdf0c0"/>
<rect x="289" y="87.51" width="22.02" height="4.67" fill="#d0e4ea"/>
<rect x="311" y="87.51" width="22.02" height="4.67" fill="#a8c8ec"/>
<rect x="201" y="92.16" width="22.02" height="4.67" fill="#e0181c"/>
<rect x="223" y="92.16" width="22.02" height="4.67" fill="#d0e4ea"/>
<rect x="245" y="92.16" width="22.02" height="4.67" fill="#fdf0c0"/>
<rect x="267" y="92.16" width="22.02" height="4.67" fill="#a8c8ec"/>
<rect x="289" y="92.16" width="22.02" height="4.67" fill="#a8c8ec"/>
<rect x="311" y="92.16" width="22.02" height="4.67" fill="#92b8e4"/>
<rect x="201" y="96.81" width="22.02" height="4.67" fill="#e0181c"/>
<rect x="223" y="96.81" width="22.02" height="4.67" fill="#d0e4ea"/>
<rect x="245" y="96.81" width="22.02" height="4.67" fill="#f6a478"/>
<rect x="267" y="96.81" width="22.02" height="4.67" fill="#a8c8ec"/>
<rect x="289" y="96.81" width="22.02" height="4.67" fill="#d0e4ea"/>
<rect x="311" y="96.81" width="22.02" height="4.67" fill="#d0e4ea"/>
<rect x="201" y="101.46" width="22.02" height="4.67" fill="#a81014"/>
<rect x="223" y="101.46" width="22.02" height="4.67" fill="#d0e4ea"/>
<rect x="245" y="101.46" width="22.02" height="4.67" fill="#eef2d8"/>
<rect x="267" y="101.46" width="22.02" height="4.67" fill="#a8c8ec"/>
<rect x="289" y="101.46" width="22.02" height="4.67" fill="#92b8e4"/>
<rect x="311" y="101.46" width="22.02" height="4.67" fill="#a8c8ec"/>
<rect x="201" y="106.11" width="22.02" height="4.67" fill="#a8c8ec"/>
<rect x="223" y="106.11" width="22.02" height="4.67" fill="#a8c8ec"/>
<rect x="245" y="106.11" width="22.02" height="4.67" fill="#a8c8ec"/>
<rect x="267" y="106.11" width="22.02" height="4.67" fill="#a8c8ec"/>
<rect x="289" y="106.11" width="22.02" height="4.67" fill="#6494cc"/>
<rect x="311" y="106.11" width="22.02" height="4.67" fill="#1f5096"/>
<rect x="201" y="110.76" width="22.02" height="4.67" fill="#a8c8ec"/>
<rect x="223" y="110.76" width="22.02" height="4.67" fill="#a8c8ec"/>
<rect x="245" y="110.76" width="22.02" height="4.67" fill="#a8c8ec"/>
<rect x="267" y="110.76" width="22.02" height="4.67" fill="#a8c8ec"/>
<rect x="289" y="110.76" width="22.02" height="4.67" fill="#6494cc"/>
<rect x="311" y="110.76" width="22.02" height="4.67" fill="#1f5096"/>
<rect x="201" y="115.41" width="22.02" height="4.67" fill="#a8c8ec"/>
<rect x="223" y="115.41" width="22.02" height="4.67" fill="#d0e4ea"/>
<rect x="245" y="115.41" width="22.02" height="4.67" fill="#d0e4ea"/>
<rect x="267" y="115.41" width="22.02" height="4.67" fill="#a8c8ec"/>
<rect x="289" y="115.41" width="22.02" height="4.67" fill="#92b8e4"/>
<rect x="311" y="115.41" width="22.02" height="4.67" fill="#6494cc"/>
<rect x="201" y="120.06" width="22.02" height="4.67" fill="#92b8e4"/>
<rect x="223" y="120.06" width="22.02" height="4.67" fill="#92b8e4"/>
<rect x="245" y="120.06" width="22.02" height="4.67" fill="#92b8e4"/>
<rect x="267" y="120.06" width="22.02" height="4.67" fill="#4a7cc0"/>
<rect x="289" y="120.06" width="22.02" height="4.67" fill="#4a7cc0"/>
<rect x="311" y="120.06" width="22.02" height="4.67" fill="#6494cc"/>
<rect x="201" y="124.71" width="22.02" height="4.67" fill="#a8c8ec"/>
<rect x="223" y="124.71" width="22.02" height="4.67" fill="#a8c8ec"/>
<rect x="245" y="124.71" width="22.02" height="4.67" fill="#a8c8ec"/>
<rect x="267" y="124.71" width="22.02" height="4.67" fill="#92b8e4"/>
<rect x="289" y="124.71" width="22.02" height="4.67" fill="#6494cc"/>
<rect x="311" y="124.71" width="22.02" height="4.67" fill="#1f5096"/>
<rect x="201" y="129.37" width="22.02" height="4.67" fill="#f0845e"/>
<rect x="223" y="129.37" width="22.02" height="4.67" fill="#fdf0c0"/>
<rect x="245" y="129.37" width="22.02" height="4.67" fill="#f6a478"/>
<rect x="267" y="129.37" width="22.02" height="4.67" fill="#ec5444"/>
<rect x="289" y="129.37" width="22.02" height="4.67" fill="#fdf0c0"/>
<rect x="311" y="129.37" width="22.02" height="4.67" fill="#a8c8ec"/>
<rect x="201" y="134.02" width="22.02" height="4.67" fill="#f0845e"/>
<rect x="223" y="134.02" width="22.02" height="4.67" fill="#fdf0c0"/>
<rect x="245" y="134.02" width="22.02" height="4.67" fill="#fdf0c0"/>
<rect x="267" y="134.02" width="22.02" height="4.67" fill="#fcd4a0"/>
<rect x="289" y="134.02" width="22.02" height="4.67" fill="#eef2d8"/>
<rect x="311" y="134.02" width="22.02" height="4.67" fill="#d0e4ea"/>
<rect x="201" y="138.67" width="22.02" height="4.67" fill="#f0845e"/>
<rect x="223" y="138.67" width="22.02" height="4.67" fill="#fdf0c0"/>
<rect x="245" y="138.67" width="22.02" height="4.67" fill="#fdf0c0"/>
<rect x="267" y="138.67" width="22.02" height="4.67" fill="#f6a478"/>
<rect x="289" y="138.67" width="22.02" height="4.67" fill="#d0e4ea"/>
<rect x="311" y="138.67" width="22.02" height="4.67" fill="#a8c8ec"/>
<rect x="201" y="143.32" width="22.02" height="4.67" fill="#f6a478"/>
<rect x="223" y="143.32" width="22.02" height="4.67" fill="#f6a478"/>
<rect x="245" y="143.32" width="22.02" height="4.67" fill="#ec5444"/>
<rect x="267" y="143.32" width="22.02" height="4.67" fill="#fcd4a0"/>
<rect x="289" y="143.32" width="22.02" height="4.67" fill="#d0e4ea"/>
<rect x="311" y="143.32" width="22.02" height="4.67" fill="#d0e4ea"/>
<rect x="201" y="147.97" width="22.02" height="4.67" fill="#f0845e"/>
<rect x="223" y="147.97" width="22.02" height="4.67" fill="#f6a478"/>
<rect x="245" y="147.97" width="22.02" height="4.67" fill="#ec5444"/>
<rect x="267" y="147.97" width="22.02" height="4.67" fill="#f6a478"/>
<rect x="289" y="147.97" width="22.02" height="4.67" fill="#fdf0c0"/>
<rect x="311" y="147.97" width="22.02" height="4.67" fill="#d0e4ea"/>
<rect x="201" y="152.62" width="22.02" height="4.67" fill="#eef2d8"/>
<rect x="223" y="152.62" width="22.02" height="4.67" fill="#fdf0c0"/>
<rect x="245" y="152.62" width="22.02" height="4.67" fill="#fdf0c0"/>
<rect x="267" y="152.62" width="22.02" height="4.67" fill="#fcd4a0"/>
<rect x="289" y="152.62" width="22.02" height="4.67" fill="#d0e4ea"/>
<rect x="311" y="152.62" width="22.02" height="4.67" fill="#d0e4ea"/>
<rect x="201" y="157.27" width="22.02" height="4.67" fill="#fdf0c0"/>
<rect x="223" y="157.27" width="22.02" height="4.67" fill="#fcd4a0"/>
<rect x="245" y="157.27" width="22.02" height="4.67" fill="#fdf0c0"/>
<rect x="267" y="157.27" width="22.02" height="4.67" fill="#fcd4a0"/>
<rect x="289" y="157.27" width="22.02" height="4.67" fill="#fdf0c0"/>
<rect x="311" y="157.27" width="22.02" height="4.67" fill="#d0e4ea"/>
<rect x="201" y="161.92" width="22.02" height="4.67" fill="#a8c8ec"/>
<rect x="223" y="161.92" width="22.02" height="4.67" fill="#f6a478"/>
<rect x="245" y="161.92" width="22.02" height="4.67" fill="#e0181c"/>
<rect x="267" y="161.92" width="22.02" height="4.67" fill="#fdf0c0"/>
<rect x="289" y="161.92" width="22.02" height="4.67" fill="#a8c8ec"/>
<rect x="311" y="161.92" width="22.02" height="4.67" fill="#a8c8ec"/>
<rect x="201" y="166.57" width="22.02" height="4.67" fill="#d0e4ea"/>
<rect x="223" y="166.57" width="22.02" height="4.67" fill="#f6a478"/>
<rect x="245" y="166.57" width="22.02" height="4.67" fill="#fcd4a0"/>
<rect x="267" y="166.57" width="22.02" height="4.67" fill="#f6a478"/>
<rect x="289" y="166.57" width="22.02" height="4.67" fill="#fdf0c0"/>
<rect x="311" y="166.57" width="22.02" height="4.67" fill="#eef2d8"/>
<rect x="201" y="171.22" width="22.02" height="4.67" fill="#d0e4ea"/>
<rect x="223" y="171.22" width="22.02" height="4.67" fill="#a8c8ec"/>
<rect x="245" y="171.22" width="22.02" height="4.67" fill="#d0e4ea"/>
<rect x="267" y="171.22" width="22.02" height="4.67" fill="#f6a478"/>
<rect x="289" y="171.22" width="22.02" height="4.67" fill="#fdf0c0"/>
<rect x="311" y="171.22" width="22.02" height="4.67" fill="#fdf0c0"/>
<rect x="201" y="175.87" width="22.02" height="4.67" fill="#fdf0c0"/>
<rect x="223" y="175.87" width="22.02" height="4.67" fill="#f6a478"/>
<rect x="245" y="175.87" width="22.02" height="4.67" fill="#fdf0c0"/>
<rect x="267" y="175.87" width="22.02" height="4.67" fill="#f0845e"/>
<rect x="289" y="175.87" width="22.02" height="4.67" fill="#fdf0c0"/>
<rect x="311" y="175.87" width="22.02" height="4.67" fill="#d0e4ea"/>
<rect x="201" y="180.52" width="22.02" height="4.67" fill="#fdf0c0"/>
<rect x="223" y="180.52" width="22.02" height="4.67" fill="#eef2d8"/>
<rect x="245" y="180.52" width="22.02" height="4.67" fill="#fdf0c0"/>
<rect x="267" y="180.52" width="22.02" height="4.67" fill="#f0845e"/>
<rect x="289" y="180.52" width="22.02" height="4.67" fill="#fdf0c0"/>
<rect x="311" y="180.52" width="22.02" height="4.67" fill="#eef2d8"/>
<rect x="201" y="185.17" width="22.02" height="4.67" fill="#d0e4ea"/>
<rect x="223" y="185.17" width="22.02" height="4.67" fill="#fdf0c0"/>
<rect x="245" y="185.17" width="22.02" height="4.67" fill="#fcd4a0"/>
<rect x="267" y="185.17" width="22.02" height="4.67" fill="#fcd4a0"/>
<rect x="289" y="185.17" width="22.02" height="4.67" fill="#fdf0c0"/>
<rect x="311" y="185.17" width="22.02" height="4.67" fill="#fdf0c0"/>
<rect x="201" y="189.83" width="22.02" height="4.67" fill="#a8c8ec"/>
<rect x="223" y="189.83" width="22.02" height="4.67" fill="#a8c8ec"/>
<rect x="245" y="189.83" width="22.02" height="4.67" fill="#d0e4ea"/>
<rect x="267" y="189.83" width="22.02" height="4.67" fill="#92b8e4"/>
<rect x="289" y="189.83" width="22.02" height="4.67" fill="#a8c8ec"/>
<rect x="311" y="189.83" width="22.02" height="4.67" fill="#6494cc"/>
<rect x="201" y="194.48" width="22.02" height="4.67" fill="#d0e4ea"/>
<rect x="223" y="194.48" width="22.02" height="4.67" fill="#d0e4ea"/>
<rect x="245" y="194.48" width="22.02" height="4.67" fill="#d0e4ea"/>
<rect x="267" y="194.48" width="22.02" height="4.67" fill="#d0e4ea"/>
<rect x="289" y="194.48" width="22.02" height="4.67" fill="#6494cc"/>
<rect x="311" y="194.48" width="22.02" height="4.67" fill="#6494cc"/>
<rect x="201" y="199.13" width="22.02" height="4.67" fill="#a8c8ec"/>
<rect x="223" y="199.13" width="22.02" height="4.67" fill="#eef2d8"/>
<rect x="245" y="199.13" width="22.02" height="4.67" fill="#d0e4ea"/>
<rect x="267" y="199.13" width="22.02" height="4.67" fill="#a8c8ec"/>
<rect x="289" y="199.13" width="22.02" height="4.67" fill="#d0e4ea"/>
<rect x="311" y="199.13" width="22.02" height="4.67" fill="#a8c8ec"/>
<rect x="201" y="203.78" width="22.02" height="4.67" fill="#a8c8ec"/>
<rect x="223" y="203.78" width="22.02" height="4.67" fill="#eef2d8"/>
<rect x="245" y="203.78" width="22.02" height="4.67" fill="#fdf0c0"/>
<rect x="267" y="203.78" width="22.02" height="4.67" fill="#d0e4ea"/>
<rect x="289" y="203.78" width="22.02" height="4.67" fill="#d0e4ea"/>
<rect x="311" y="203.78" width="22.02" height="4.67" fill="#92b8e4"/>
<rect x="201" y="208.43" width="22.02" height="4.67" fill="#a8c8ec"/>
<rect x="223" y="208.43" width="22.02" height="4.67" fill="#d0e4ea"/>
<rect x="245" y="208.43" width="22.02" height="4.67" fill="#fdf0c0"/>
<rect x="267" y="208.43" width="22.02" height="4.67" fill="#92b8e4"/>
<rect x="289" y="208.43" width="22.02" height="4.67" fill="#a8c8ec"/>
<rect x="311" y="208.43" width="22.02" height="4.67" fill="#a8c8ec"/>
<rect x="201" y="213.08" width="22.02" height="4.67" fill="#a8c8ec"/>
<rect x="223" y="213.08" width="22.02" height="4.67" fill="#d0e4ea"/>
<rect x="245" y="213.08" width="22.02" height="4.67" fill="#fdf0c0"/>
<rect x="267" y="213.08" width="22.02" height="4.67" fill="#d0e4ea"/>
<rect x="289" y="213.08" width="22.02" height="4.67" fill="#d0e4ea"/>
<rect x="311" y="213.08" width="22.02" height="4.67" fill="#d0e4ea"/>
<rect x="201" y="217.73" width="22.02" height="4.67" fill="#d0e4ea"/>
<rect x="223" y="217.73" width="22.02" height="4.67" fill="#d0e4ea"/>
<rect x="245" y="217.73" width="22.02" height="4.67" fill="#fdf0c0"/>
<rect x="267" y="217.73" width="22.02" height="4.67" fill="#eef2d8"/>
<rect x="289" y="217.73" width="22.02" height="4.67" fill="#92b8e4"/>
<rect x="311" y="217.73" width="22.02" height="4.67" fill="#92b8e4"/>
<rect x="201" y="222.38" width="22.02" height="4.67" fill="#6494cc"/>
<rect x="223" y="222.38" width="22.02" height="4.67" fill="#d0e4ea"/>
<rect x="245" y="222.38" width="22.02" height="4.67" fill="#d0e4ea"/>
<rect x="267" y="222.38" width="22.02" height="4.67" fill="#92b8e4"/>
<rect x="289" y="222.38" width="22.02" height="4.67" fill="#a8c8ec"/>
<rect x="311" y="222.38" width="22.02" height="4.67" fill="#d0e4ea"/>
<rect x="201" y="227.03" width="22.02" height="4.67" fill="#d0e4ea"/>
<rect x="223" y="227.03" width="22.02" height="4.67" fill="#d0e4ea"/>
<rect x="245" y="227.03" width="22.02" height="4.67" fill="#eef2d8"/>
<rect x="267" y="227.03" width="22.02" height="4.67" fill="#d0e4ea"/>
<rect x="289" y="227.03" width="22.02" height="4.67" fill="#92b8e4"/>
<rect x="311" y="227.03" width="22.02" height="4.67" fill="#92b8e4"/>
<rect x="201" y="231.68" width="22.02" height="4.67" fill="#d0e4ea"/>
<rect x="223" y="231.68" width="22.02" height="4.67" fill="#d0e4ea"/>
<rect x="245" y="231.68" width="22.02" height="4.67" fill="#fdf0c0"/>
<rect x="267" y="231.68" width="22.02" height="4.67" fill="#a8c8ec"/>
<rect x="289" y="231.68" width="22.02" height="4.67" fill="#d0e4ea"/>
<rect x="311" y="231.68" width="22.02" height="4.67" fill="#a8c8ec"/>
<rect x="201" y="236.33" width="22.02" height="4.67" fill="#a8c8ec"/>
<rect x="223" y="236.33" width="22.02" height="4.67" fill="#d0e4ea"/>
<rect x="245" y="236.33" width="22.02" height="4.67" fill="#fdf0c0"/>
<rect x="267" y="236.33" width="22.02" height="4.67" fill="#eef2d8"/>
<rect x="289" y="236.33" width="22.02" height="4.67" fill="#d0e4ea"/>
<rect x="311" y="236.33" width="22.02" height="4.67" fill="#92b8e4"/>
<rect x="201" y="240.98" width="22.02" height="4.67" fill="#a8c8ec"/>
<rect x="223" y="240.98" width="22.02" height="4.67" fill="#a8c8ec"/>
<rect x="245" y="240.98" width="22.02" height="4.67" fill="#fdf0c0"/>
<rect x="267" y="240.98" width="22.02" height="4.67" fill="#92b8e4"/>
<rect x="289" y="240.98" width="22.02" height="4.67" fill="#a8c8ec"/>
<rect x="311" y="240.98" width="22.02" height="4.67" fill="#92b8e4"/>
<rect x="201" y="245.63" width="22.02" height="4.67" fill="#a8c8ec"/>
<rect x="223" y="245.63" width="22.02" height="4.67" fill="#a8c8ec"/>
<rect x="245" y="245.63" width="22.02" height="4.67" fill="#fdf0c0"/>
<rect x="267" y="245.63" width="22.02" height="4.67" fill="#a8c8ec"/>
<rect x="289" y="245.63" width="22.02" height="4.67" fill="#a8c8ec"/>
<rect x="311" y="245.63" width="22.02" height="4.67" fill="#a8c8ec"/>
<rect x="201" y="250.29" width="22.02" height="4.67" fill="#92b8e4"/>
<rect x="223" y="250.29" width="22.02" height="4.67" fill="#d0e4ea"/>
<rect x="245" y="250.29" width="22.02" height="4.67" fill="#fdf0c0"/>
<rect x="267" y="250.29" width="22.02" height="4.67" fill="#a8c8ec"/>
<rect x="289" y="250.29" width="22.02" height="4.67" fill="#a8c8ec"/>
<rect x="311" y="250.29" width="22.02" height="4.67" fill="#a8c8ec"/>
<rect x="201" y="254.94" width="22.02" height="4.67" fill="#fdf0c0"/>
<rect x="223" y="254.94" width="22.02" height="4.67" fill="#d0e4ea"/>
<rect x="245" y="254.94" width="22.02" height="4.67" fill="#fdf0c0"/>
<rect x="267" y="254.94" width="22.02" height="4.67" fill="#eef2d8"/>
<rect x="289" y="254.94" width="22.02" height="4.67" fill="#a8c8ec"/>
<rect x="311" y="254.94" width="22.02" height="4.67" fill="#92b8e4"/>
<rect x="201" y="259.59" width="22.02" height="4.67" fill="#fdf0c0"/>
<rect x="223" y="259.59" width="22.02" height="4.67" fill="#fcd4a0"/>
<rect x="245" y="259.59" width="22.02" height="4.67" fill="#fdf0c0"/>
<rect x="267" y="259.59" width="22.02" height="4.67" fill="#eef2d8"/>
<rect x="289" y="259.59" width="22.02" height="4.67" fill="#92b8e4"/>
<rect x="311" y="259.59" width="22.02" height="4.67" fill="#92b8e4"/>
<rect x="201" y="264.24" width="22.02" height="4.67" fill="#fdf0c0"/>
<rect x="223" y="264.24" width="22.02" height="4.67" fill="#d0e4ea"/>
<rect x="245" y="264.24" width="22.02" height="4.67" fill="#d0e4ea"/>
<rect x="267" y="264.24" width="22.02" height="4.67" fill="#92b8e4"/>
<rect x="289" y="264.24" width="22.02" height="4.67" fill="#92b8e4"/>
<rect x="311" y="264.24" width="22.02" height="4.67" fill="#a8c8ec"/>
<rect x="201" y="268.89" width="22.02" height="4.67" fill="#fdf0c0"/>
<rect x="223" y="268.89" width="22.02" height="4.67" fill="#fdf0c0"/>
<rect x="245" y="268.89" width="22.02" height="4.67" fill="#fdf0c0"/>
<rect x="267" y="268.89" width="22.02" height="4.67" fill="#fdf0c0"/>
<rect x="289" y="268.89" width="22.02" height="4.67" fill="#d0e4ea"/>
<rect x="311" y="268.89" width="22.02" height="4.67" fill="#a8c8ec"/>
<rect x="201" y="273.54" width="22.02" height="4.67" fill="#eef2d8"/>
<rect x="223" y="273.54" width="22.02" height="4.67" fill="#fdf0c0"/>
<rect x="245" y="273.54" width="22.02" height="4.67" fill="#fdf0c0"/>
<rect x="267" y="273.54" width="22.02" height="4.67" fill="#d0e4ea"/>
<rect x="289" y="273.54" width="22.02" height="4.67" fill="#d0e4ea"/>
<rect x="311" y="273.54" width="22.02" height="4.67" fill="#d0e4ea"/>
<rect x="201" y="278.19" width="22.02" height="4.67" fill="#a8c8ec"/>
<rect x="223" y="278.19" width="22.02" height="4.67" fill="#fdf0c0"/>
<rect x="245" y="278.19" width="22.02" height="4.67" fill="#fcd4a0"/>
<rect x="267" y="278.19" width="22.02" height="4.67" fill="#d0e4ea"/>
<rect x="289" y="278.19" width="22.02" height="4.67" fill="#d0e4ea"/>
<rect x="311" y="278.19" width="22.02" height="4.67" fill="#92b8e4"/>
<rect x="201" y="282.84" width="22.02" height="4.67" fill="#fcd4a0"/>
<rect x="223" y="282.84" width="22.02" height="4.67" fill="#a8c8ec"/>
<rect x="245" y="282.84" width="22.02" height="4.67" fill="#eef2d8"/>
<rect x="267" y="282.84" width="22.02" height="4.67" fill="#d0e4ea"/>
<rect x="289" y="282.84" width="22.02" height="4.67" fill="#d0e4ea"/>
<rect x="311" y="282.84" width="22.02" height="4.67" fill="#a8c8ec"/>
<rect x="201" y="287.49" width="22.02" height="4.67" fill="#fdf0c0"/>
<rect x="223" y="287.49" width="22.02" height="4.67" fill="#a8c8ec"/>
<rect x="245" y="287.49" width="22.02" height="4.67" fill="#fdf0c0"/>
<rect x="267" y="287.49" width="22.02" height="4.67" fill="#d0e4ea"/>
<rect x="289" y="287.49" width="22.02" height="4.67" fill="#a8c8ec"/>
<rect x="311" y="287.49" width="22.02" height="4.67" fill="#92b8e4"/>
<rect x="201" y="292.14" width="22.02" height="4.67" fill="#fcd4a0"/>
<rect x="223" y="292.14" width="22.02" height="4.67" fill="#d0e4ea"/>
<rect x="245" y="292.14" width="22.02" height="4.67" fill="#eef2d8"/>
<rect x="267" y="292.14" width="22.02" height="4.67" fill="#d0e4ea"/>
<rect x="289" y="292.14" width="22.02" height="4.67" fill="#a8c8ec"/>
<rect x="311" y="292.14" width="22.02" height="4.67" fill="#a8c8ec"/>
<rect x="201" y="296.79" width="22.02" height="4.67" fill="#e0181c"/>
<rect x="223" y="296.79" width="22.02" height="4.67" fill="#eef2d8"/>
<rect x="245" y="296.79" width="22.02" height="4.67" fill="#eef2d8"/>
<rect x="267" y="296.79" width="22.02" height="4.67" fill="#a8c8ec"/>
<rect x="289" y="296.79" width="22.02" height="4.67" fill="#a8c8ec"/>
<rect x="311" y="296.79" width="22.02" height="4.67" fill="#a8c8ec"/>
<rect x="201" y="301.44" width="22.02" height="4.67" fill="#e0181c"/>
<rect x="223" y="301.44" width="22.02" height="4.67" fill="#d0e4ea"/>
<rect x="245" y="301.44" width="22.02" height="4.67" fill="#fdf0c0"/>
<rect x="267" y="301.44" width="22.02" height="4.67" fill="#a8c8ec"/>
<rect x="289" y="301.44" width="22.02" height="4.67" fill="#eef2d8"/>
<rect x="311" y="301.44" width="22.02" height="4.67" fill="#a8c8ec"/>
<rect x="201" y="306.1" width="22.02" height="4.67" fill="#f6a478"/>
<rect x="223" y="306.1" width="22.02" height="4.67" fill="#d0e4ea"/>
<rect x="245" y="306.1" width="22.02" height="4.67" fill="#fdf0c0"/>
<rect x="267" y="306.1" width="22.02" height="4.67" fill="#a8c8ec"/>
<rect x="289" y="306.1" width="22.02" height="4.67" fill="#a8c8ec"/>
<rect x="311" y="306.1" width="22.02" height="4.67" fill="#a8c8ec"/>
<rect x="201" y="310.75" width="22.02" height="4.67" fill="#fcd4a0"/>
<rect x="223" y="310.75" width="22.02" height="4.67" fill="#a8c8ec"/>
<rect x="245" y="310.75" width="22.02" height="4.67" fill="#a8c8ec"/>
<rect x="267" y="310.75" width="22.02" height="4.67" fill="#92b8e4"/>
<rect x="289" y="310.75" width="22.02" height="4.67" fill="#92b8e4"/>
<rect x="311" y="310.75" width="22.02" height="4.67" fill="#6494cc"/>
<rect x="201" y="315.4" width="22.02" height="4.67" fill="#ec5444"/>
<rect x="223" y="315.4" width="22.02" height="4.67" fill="#a8c8ec"/>
<rect x="245" y="315.4" width="22.02" height="4.67" fill="#fdf0c0"/>
<rect x="267" y="315.4" width="22.02" height="4.67" fill="#92b8e4"/>
<rect x="289" y="315.4" width="22.02" height="4.67" fill="#92b8e4"/>
<rect x="311" y="315.4" width="22.02" height="4.67" fill="#a8c8ec"/>
<rect x="201" y="320.05" width="22.02" height="4.67" fill="#fcd4a0"/>
<rect x="223" y="320.05" width="22.02" height="4.67" fill="#a8c8ec"/>
<rect x="245" y="320.05" width="22.02" height="4.67" fill="#fdf0c0"/>
<rect x="267" y="320.05" width="22.02" height="4.67" fill="#a8c8ec"/>
<rect x="289" y="320.05" width="22.02" height="4.67" fill="#a8c8ec"/>
<rect x="311" y="320.05" width="22.02" height="4.67" fill="#d0e4ea"/>
<rect x="201" y="324.7" width="22.02" height="4.67" fill="#e0181c"/>
<rect x="223" y="324.7" width="22.02" height="4.67" fill="#92b8e4"/>
<rect x="245" y="324.7" width="22.02" height="4.67" fill="#d0e4ea"/>
<rect x="267" y="324.7" width="22.02" height="4.67" fill="#a8c8ec"/>
<rect x="289" y="324.7" width="22.02" height="4.67" fill="#a8c8ec"/>
<rect x="311" y="324.7" width="22.02" height="4.67" fill="#a8c8ec"/>
<rect x="201" y="329.35" width="22.02" height="4.67" fill="#fcd4a0"/>
<rect x="223" y="329.35" width="22.02" height="4.67" fill="#fdf0c0"/>
<rect x="245" y="329.35" width="22.02" height="4.67" fill="#fcd4a0"/>
<rect x="267" y="329.35" width="22.02" height="4.67" fill="#fdf0c0"/>
<rect x="289" y="329.35" width="22.02" height="4.67" fill="#a8c8ec"/>
<rect x="311" y="329.35" width="22.02" height="4.67" fill="#6494cc"/>
<rect x="383.5" y="41" width="21.52" height="4.33" fill="#d0e4ea"/>
<rect x="405" y="41" width="21.52" height="4.33" fill="#6494cc"/>
<rect x="426.5" y="41" width="21.52" height="4.33" fill="#a8c8ec"/>
<rect x="448" y="41" width="21.52" height="4.33" fill="#d0e4ea"/>
<rect x="469.5" y="41" width="21.52" height="4.33" fill="#e0181c"/>
<rect x="491" y="41" width="21.52" height="4.33" fill="#e0181c"/>
<rect x="383.5" y="45.31" width="21.52" height="4.33" fill="#fdf0c0"/>
<rect x="405" y="45.31" width="21.52" height="4.33" fill="#d0e4ea"/>
<rect x="426.5" y="45.31" width="21.52" height="4.33" fill="#a8c8ec"/>
<rect x="448" y="45.31" width="21.52" height="4.33" fill="#a8c8ec"/>
<rect x="469.5" y="45.31" width="21.52" height="4.33" fill="#ec5444"/>
<rect x="491" y="45.31" width="21.52" height="4.33" fill="#e0181c"/>
<rect x="383.5" y="49.62" width="21.52" height="4.33" fill="#92b8e4"/>
<rect x="405" y="49.62" width="21.52" height="4.33" fill="#a8c8ec"/>
<rect x="426.5" y="49.62" width="21.52" height="4.33" fill="#a8c8ec"/>
<rect x="448" y="49.62" width="21.52" height="4.33" fill="#eef2d8"/>
<rect x="469.5" y="49.62" width="21.52" height="4.33" fill="#e0181c"/>
<rect x="491" y="49.62" width="21.52" height="4.33" fill="#e0181c"/>
<rect x="383.5" y="53.93" width="21.52" height="4.33" fill="#a8c8ec"/>
<rect x="405" y="53.93" width="21.52" height="4.33" fill="#6494cc"/>
<rect x="426.5" y="53.93" width="21.52" height="4.33" fill="#92b8e4"/>
<rect x="448" y="53.93" width="21.52" height="4.33" fill="#d0e4ea"/>
<rect x="469.5" y="53.93" width="21.52" height="4.33" fill="#a81014"/>
<rect x="491" y="53.93" width="21.52" height="4.33" fill="#a81014"/>
<rect x="383.5" y="58.24" width="21.52" height="4.33" fill="#a8c8ec"/>
<rect x="405" y="58.24" width="21.52" height="4.33" fill="#a8c8ec"/>
<rect x="426.5" y="58.24" width="21.52" height="4.33" fill="#4a7cc0"/>
<rect x="448" y="58.24" width="21.52" height="4.33" fill="#6494cc"/>
<rect x="469.5" y="58.24" width="21.52" height="4.33" fill="#ec5444"/>
<rect x="491" y="58.24" width="21.52" height="4.33" fill="#e0181c"/>
<rect x="383.5" y="62.54" width="21.52" height="4.33" fill="#92b8e4"/>
<rect x="405" y="62.54" width="21.52" height="4.33" fill="#4a7cc0"/>
<rect x="426.5" y="62.54" width="21.52" height="4.33" fill="#1f5096"/>
<rect x="448" y="62.54" width="21.52" height="4.33" fill="#4a7cc0"/>
<rect x="469.5" y="62.54" width="21.52" height="4.33" fill="#e63a30"/>
<rect x="491" y="62.54" width="21.52" height="4.33" fill="#e0181c"/>
<rect x="383.5" y="66.85" width="21.52" height="4.33" fill="#a8c8ec"/>
<rect x="405" y="66.85" width="21.52" height="4.33" fill="#a8c8ec"/>
<rect x="426.5" y="66.85" width="21.52" height="4.33" fill="#4a7cc0"/>
<rect x="448" y="66.85" width="21.52" height="4.33" fill="#6494cc"/>
<rect x="469.5" y="66.85" width="21.52" height="4.33" fill="#e63a30"/>
<rect x="491" y="66.85" width="21.52" height="4.33" fill="#e0181c"/>
<rect x="383.5" y="71.16" width="21.52" height="4.33" fill="#a8c8ec"/>
<rect x="405" y="71.16" width="21.52" height="4.33" fill="#6494cc"/>
<rect x="426.5" y="71.16" width="21.52" height="4.33" fill="#6494cc"/>
<rect x="448" y="71.16" width="21.52" height="4.33" fill="#92b8e4"/>
<rect x="469.5" y="71.16" width="21.52" height="4.33" fill="#e63a30"/>
<rect x="491" y="71.16" width="21.52" height="4.33" fill="#e0181c"/>
<rect x="383.5" y="75.47" width="21.52" height="4.33" fill="#d0e4ea"/>
<rect x="405" y="75.47" width="21.52" height="4.33" fill="#d0e4ea"/>
<rect x="426.5" y="75.47" width="21.52" height="4.33" fill="#fdf0c0"/>
<rect x="448" y="75.47" width="21.52" height="4.33" fill="#f0845e"/>
<rect x="469.5" y="75.47" width="21.52" height="4.33" fill="#fcd4a0"/>
<rect x="491" y="75.47" width="21.52" height="4.33" fill="#f6a478"/>
<rect x="383.5" y="79.78" width="21.52" height="4.33" fill="#d0e4ea"/>
<rect x="405" y="79.78" width="21.52" height="4.33" fill="#d0e4ea"/>
<rect x="426.5" y="79.78" width="21.52" height="4.33" fill="#d0e4ea"/>
<rect x="448" y="79.78" width="21.52" height="4.33" fill="#fdf0c0"/>
<rect x="469.5" y="79.78" width="21.52" height="4.33" fill="#fdf0c0"/>
<rect x="491" y="79.78" width="21.52" height="4.33" fill="#fcd4a0"/>
<rect x="383.5" y="84.09" width="21.52" height="4.33" fill="#fdf0c0"/>
<rect x="405" y="84.09" width="21.52" height="4.33" fill="#fdf0c0"/>
<rect x="426.5" y="84.09" width="21.52" height="4.33" fill="#fcd4a0"/>
<rect x="448" y="84.09" width="21.52" height="4.33" fill="#fcd4a0"/>
<rect x="469.5" y="84.09" width="21.52" height="4.33" fill="#ec5444"/>
<rect x="491" y="84.09" width="21.52" height="4.33" fill="#ec5444"/>
<rect x="383.5" y="88.4" width="21.52" height="4.33" fill="#fdf0c0"/>
<rect x="405" y="88.4" width="21.52" height="4.33" fill="#92b8e4"/>
<rect x="426.5" y="88.4" width="21.52" height="4.33" fill="#d0e4ea"/>
<rect x="448" y="88.4" width="21.52" height="4.33" fill="#eef2d8"/>
<rect x="469.5" y="88.4" width="21.52" height="4.33" fill="#eef2d8"/>
<rect x="491" y="88.4" width="21.52" height="4.33" fill="#fcd4a0"/>
<rect x="383.5" y="92.71" width="21.52" height="4.33" fill="#fdf0c0"/>
<rect x="405" y="92.71" width="21.52" height="4.33" fill="#a8c8ec"/>
<rect x="426.5" y="92.71" width="21.52" height="4.33" fill="#a8c8ec"/>
<rect x="448" y="92.71" width="21.52" height="4.33" fill="#d0e4ea"/>
<rect x="469.5" y="92.71" width="21.52" height="4.33" fill="#d0e4ea"/>
<rect x="491" y="92.71" width="21.52" height="4.33" fill="#eef2d8"/>
<rect x="383.5" y="97.01" width="21.52" height="4.33" fill="#f0845e"/>
<rect x="405" y="97.01" width="21.52" height="4.33" fill="#d0e4ea"/>
<rect x="426.5" y="97.01" width="21.52" height="4.33" fill="#a8c8ec"/>
<rect x="448" y="97.01" width="21.52" height="4.33" fill="#eef2d8"/>
<rect x="469.5" y="97.01" width="21.52" height="4.33" fill="#d0e4ea"/>
<rect x="491" y="97.01" width="21.52" height="4.33" fill="#eef2d8"/>
<rect x="383.5" y="101.32" width="21.52" height="4.33" fill="#f0845e"/>
<rect x="405" y="101.32" width="21.52" height="4.33" fill="#d0e4ea"/>
<rect x="426.5" y="101.32" width="21.52" height="4.33" fill="#a8c8ec"/>
<rect x="448" y="101.32" width="21.52" height="4.33" fill="#92b8e4"/>
<rect x="469.5" y="101.32" width="21.52" height="4.33" fill="#d0e4ea"/>
<rect x="491" y="101.32" width="21.52" height="4.33" fill="#eef2d8"/>
<rect x="383.5" y="105.63" width="21.52" height="4.33" fill="#ec5444"/>
<rect x="405" y="105.63" width="21.52" height="4.33" fill="#d0e4ea"/>
<rect x="426.5" y="105.63" width="21.52" height="4.33" fill="#eef2d8"/>
<rect x="448" y="105.63" width="21.52" height="4.33" fill="#f6a478"/>
<rect x="469.5" y="105.63" width="21.52" height="4.33" fill="#fcd4a0"/>
<rect x="491" y="105.63" width="21.52" height="4.33" fill="#fcd4a0"/>
<rect x="383.5" y="109.94" width="21.52" height="4.33" fill="#fdf0c0"/>
<rect x="405" y="109.94" width="21.52" height="4.33" fill="#d0e4ea"/>
<rect x="426.5" y="109.94" width="21.52" height="4.33" fill="#a8c8ec"/>
<rect x="448" y="109.94" width="21.52" height="4.33" fill="#eef2d8"/>
<rect x="469.5" y="109.94" width="21.52" height="4.33" fill="#fdf0c0"/>
<rect x="491" y="109.94" width="21.52" height="4.33" fill="#eef2d8"/>
<rect x="383.5" y="114.25" width="21.52" height="4.33" fill="#92b8e4"/>
<rect x="405" y="114.25" width="21.52" height="4.33" fill="#a8c8ec"/>
<rect x="426.5" y="114.25" width="21.52" height="4.33" fill="#92b8e4"/>
<rect x="448" y="114.25" width="21.52" height="4.33" fill="#92b8e4"/>
<rect x="469.5" y="114.25" width="21.52" height="4.33" fill="#fdf0c0"/>
<rect x="491" y="114.25" width="21.52" height="4.33" fill="#f6a478"/>
<rect x="383.5" y="118.56" width="21.52" height="4.33" fill="#a8c8ec"/>
<rect x="405" y="118.56" width="21.52" height="4.33" fill="#92b8e4"/>
<rect x="426.5" y="118.56" width="21.52" height="4.33" fill="#92b8e4"/>
<rect x="448" y="118.56" width="21.52" height="4.33" fill="#92b8e4"/>
<rect x="469.5" y="118.56" width="21.52" height="4.33" fill="#fdf0c0"/>
<rect x="491" y="118.56" width="21.52" height="4.33" fill="#f6a478"/>
<rect x="383.5" y="122.87" width="21.52" height="4.33" fill="#a8c8ec"/>
<rect x="405" y="122.87" width="21.52" height="4.33" fill="#a8c8ec"/>
<rect x="426.5" y="122.87" width="21.52" height="4.33" fill="#d0e4ea"/>
<rect x="448" y="122.87" width="21.52" height="4.33" fill="#92b8e4"/>
<rect x="469.5" y="122.87" width="21.52" height="4.33" fill="#fdf0c0"/>
<rect x="491" y="122.87" width="21.52" height="4.33" fill="#f0845e"/>
<rect x="383.5" y="127.18" width="21.52" height="4.33" fill="#a8c8ec"/>
<rect x="405" y="127.18" width="21.52" height="4.33" fill="#a8c8ec"/>
<rect x="426.5" y="127.18" width="21.52" height="4.33" fill="#92b8e4"/>
<rect x="448" y="127.18" width="21.52" height="4.33" fill="#a8c8ec"/>
<rect x="469.5" y="127.18" width="21.52" height="4.33" fill="#fdf0c0"/>
<rect x="491" y="127.18" width="21.52" height="4.33" fill="#fcd4a0"/>
<rect x="383.5" y="131.49" width="21.52" height="4.33" fill="#a8c8ec"/>
<rect x="405" y="131.49" width="21.52" height="4.33" fill="#a8c8ec"/>
<rect x="426.5" y="131.49" width="21.52" height="4.33" fill="#a8c8ec"/>
<rect x="448" y="131.49" width="21.52" height="4.33" fill="#d0e4ea"/>
<rect x="469.5" y="131.49" width="21.52" height="4.33" fill="#fcd4a0"/>
<rect x="491" y="131.49" width="21.52" height="4.33" fill="#fcd4a0"/>
<rect x="383.5" y="135.79" width="21.52" height="4.33" fill="#d0e4ea"/>
<rect x="405" y="135.79" width="21.52" height="4.33" fill="#92b8e4"/>
<rect x="426.5" y="135.79" width="21.52" height="4.33" fill="#a8c8ec"/>
<rect x="448" y="135.79" width="21.52" height="4.33" fill="#a8c8ec"/>
<rect x="469.5" y="135.79" width="21.52" height="4.33" fill="#fdf0c0"/>
<rect x="491" y="135.79" width="21.52" height="4.33" fill="#ec5444"/>
<rect x="383.5" y="140.1" width="21.52" height="4.33" fill="#a8c8ec"/>
<rect x="405" y="140.1" width="21.52" height="4.33" fill="#d0e4ea"/>
<rect x="426.5" y="140.1" width="21.52" height="4.33" fill="#a8c8ec"/>
<rect x="448" y="140.1" width="21.52" height="4.33" fill="#a8c8ec"/>
<rect x="469.5" y="140.1" width="21.52" height="4.33" fill="#eef2d8"/>
<rect x="491" y="140.1" width="21.52" height="4.33" fill="#fdf0c0"/>
<rect x="383.5" y="144.41" width="21.52" height="4.33" fill="#92b8e4"/>
<rect x="405" y="144.41" width="21.52" height="4.33" fill="#a8c8ec"/>
<rect x="426.5" y="144.41" width="21.52" height="4.33" fill="#92b8e4"/>
<rect x="448" y="144.41" width="21.52" height="4.33" fill="#92b8e4"/>
<rect x="469.5" y="144.41" width="21.52" height="4.33" fill="#eef2d8"/>
<rect x="491" y="144.41" width="21.52" height="4.33" fill="#f6a478"/>
<rect x="383.5" y="148.72" width="21.52" height="4.33" fill="#a8c8ec"/>
<rect x="405" y="148.72" width="21.52" height="4.33" fill="#a8c8ec"/>
<rect x="426.5" y="148.72" width="21.52" height="4.33" fill="#a8c8ec"/>
<rect x="448" y="148.72" width="21.52" height="4.33" fill="#a8c8ec"/>
<rect x="469.5" y="148.72" width="21.52" height="4.33" fill="#eef2d8"/>
<rect x="491" y="148.72" width="21.52" height="4.33" fill="#fcd4a0"/>
<rect x="383.5" y="153.03" width="21.52" height="4.33" fill="#92b8e4"/>
<rect x="405" y="153.03" width="21.52" height="4.33" fill="#d0e4ea"/>
<rect x="426.5" y="153.03" width="21.52" height="4.33" fill="#a8c8ec"/>
<rect x="448" y="153.03" width="21.52" height="4.33" fill="#d0e4ea"/>
<rect x="469.5" y="153.03" width="21.52" height="4.33" fill="#fdf0c0"/>
<rect x="491" y="153.03" width="21.52" height="4.33" fill="#fdf0c0"/>
<rect x="383.5" y="157.34" width="21.52" height="4.33" fill="#a8c8ec"/>
<rect x="405" y="157.34" width="21.52" height="4.33" fill="#92b8e4"/>
<rect x="426.5" y="157.34" width="21.52" height="4.33" fill="#92b8e4"/>
<rect x="448" y="157.34" width="21.52" height="4.33" fill="#6494cc"/>
<rect x="469.5" y="157.34" width="21.52" height="4.33" fill="#fdf0c0"/>
<rect x="491" y="157.34" width="21.52" height="4.33" fill="#fdf0c0"/>
<rect x="383.5" y="161.65" width="21.52" height="4.33" fill="#a8c8ec"/>
<rect x="405" y="161.65" width="21.52" height="4.33" fill="#a8c8ec"/>
<rect x="426.5" y="161.65" width="21.52" height="4.33" fill="#a8c8ec"/>
<rect x="448" y="161.65" width="21.52" height="4.33" fill="#92b8e4"/>
<rect x="469.5" y="161.65" width="21.52" height="4.33" fill="#fcd4a0"/>
<rect x="491" y="161.65" width="21.52" height="4.33" fill="#f6a478"/>
<rect x="383.5" y="165.96" width="21.52" height="4.33" fill="#a8c8ec"/>
<rect x="405" y="165.96" width="21.52" height="4.33" fill="#92b8e4"/>
<rect x="426.5" y="165.96" width="21.52" height="4.33" fill="#a8c8ec"/>
<rect x="448" y="165.96" width="21.52" height="4.33" fill="#a8c8ec"/>
<rect x="469.5" y="165.96" width="21.52" height="4.33" fill="#fdf0c0"/>
<rect x="491" y="165.96" width="21.52" height="4.33" fill="#f6a478"/>
<rect x="383.5" y="170.26" width="21.52" height="4.33" fill="#a8c8ec"/>
<rect x="405" y="170.26" width="21.52" height="4.33" fill="#92b8e4"/>
<rect x="426.5" y="170.26" width="21.52" height="4.33" fill="#a8c8ec"/>
<rect x="448" y="170.26" width="21.52" height="4.33" fill="#a8c8ec"/>
<rect x="469.5" y="170.26" width="21.52" height="4.33" fill="#fdf0c0"/>
<rect x="491" y="170.26" width="21.52" height="4.33" fill="#f6a478"/>
<rect x="383.5" y="174.57" width="21.52" height="4.33" fill="#d0e4ea"/>
<rect x="405" y="174.57" width="21.52" height="4.33" fill="#92b8e4"/>
<rect x="426.5" y="174.57" width="21.52" height="4.33" fill="#a8c8ec"/>
<rect x="448" y="174.57" width="21.52" height="4.33" fill="#6494cc"/>
<rect x="469.5" y="174.57" width="21.52" height="4.33" fill="#f6a478"/>
<rect x="491" y="174.57" width="21.52" height="4.33" fill="#fdf0c0"/>
<rect x="383.5" y="178.88" width="21.52" height="4.33" fill="#a8c8ec"/>
<rect x="405" y="178.88" width="21.52" height="4.33" fill="#92b8e4"/>
<rect x="426.5" y="178.88" width="21.52" height="4.33" fill="#a8c8ec"/>
<rect x="448" y="178.88" width="21.52" height="4.33" fill="#a8c8ec"/>
<rect x="469.5" y="178.88" width="21.52" height="4.33" fill="#fdf0c0"/>
<rect x="491" y="178.88" width="21.52" height="4.33" fill="#fcd4a0"/>
<rect x="383.5" y="183.19" width="21.52" height="4.33" fill="#a8c8ec"/>
<rect x="405" y="183.19" width="21.52" height="4.33" fill="#a8c8ec"/>
<rect x="426.5" y="183.19" width="21.52" height="4.33" fill="#a8c8ec"/>
<rect x="448" y="183.19" width="21.52" height="4.33" fill="#d0e4ea"/>
<rect x="469.5" y="183.19" width="21.52" height="4.33" fill="#fdf0c0"/>
<rect x="491" y="183.19" width="21.52" height="4.33" fill="#f0845e"/>
<rect x="383.5" y="187.5" width="21.52" height="4.33" fill="#d0e4ea"/>
<rect x="405" y="187.5" width="21.52" height="4.33" fill="#d0e4ea"/>
<rect x="426.5" y="187.5" width="21.52" height="4.33" fill="#d0e4ea"/>
<rect x="448" y="187.5" width="21.52" height="4.33" fill="#a8c8ec"/>
<rect x="469.5" y="187.5" width="21.52" height="4.33" fill="#fcd4a0"/>
<rect x="491" y="187.5" width="21.52" height="4.33" fill="#d0e4ea"/>
<rect x="383.5" y="191.81" width="21.52" height="4.33" fill="#a8c8ec"/>
<rect x="405" y="191.81" width="21.52" height="4.33" fill="#92b8e4"/>
<rect x="426.5" y="191.81" width="21.52" height="4.33" fill="#92b8e4"/>
<rect x="448" y="191.81" width="21.52" height="4.33" fill="#a8c8ec"/>
<rect x="469.5" y="191.81" width="21.52" height="4.33" fill="#fdf0c0"/>
<rect x="491" y="191.81" width="21.52" height="4.33" fill="#fcd4a0"/>
<rect x="383.5" y="196.12" width="21.52" height="4.33" fill="#92b8e4"/>
<rect x="405" y="196.12" width="21.52" height="4.33" fill="#92b8e4"/>
<rect x="426.5" y="196.12" width="21.52" height="4.33" fill="#92b8e4"/>
<rect x="448" y="196.12" width="21.52" height="4.33" fill="#92b8e4"/>
<rect x="469.5" y="196.12" width="21.52" height="4.33" fill="#d0e4ea"/>
<rect x="491" y="196.12" width="21.52" height="4.33" fill="#d0e4ea"/>
<rect x="383.5" y="200.43" width="21.52" height="4.33" fill="#a8c8ec"/>
<rect x="405" y="200.43" width="21.52" height="4.33" fill="#a8c8ec"/>
<rect x="426.5" y="200.43" width="21.52" height="4.33" fill="#d0e4ea"/>
<rect x="448" y="200.43" width="21.52" height="4.33" fill="#a8c8ec"/>
<rect x="469.5" y="200.43" width="21.52" height="4.33" fill="#fdf0c0"/>
<rect x="491" y="200.43" width="21.52" height="4.33" fill="#eef2d8"/>
<rect x="383.5" y="204.74" width="21.52" height="4.33" fill="#a8c8ec"/>
<rect x="405" y="204.74" width="21.52" height="4.33" fill="#a8c8ec"/>
<rect x="426.5" y="204.74" width="21.52" height="4.33" fill="#a8c8ec"/>
<rect x="448" y="204.74" width="21.52" height="4.33" fill="#a8c8ec"/>
<rect x="469.5" y="204.74" width="21.52" height="4.33" fill="#d0e4ea"/>
<rect x="491" y="204.74" width="21.52" height="4.33" fill="#fdf0c0"/>
<rect x="383.5" y="209.04" width="21.52" height="4.33" fill="#a8c8ec"/>
<rect x="405" y="209.04" width="21.52" height="4.33" fill="#a8c8ec"/>
<rect x="426.5" y="209.04" width="21.52" height="4.33" fill="#a8c8ec"/>
<rect x="448" y="209.04" width="21.52" height="4.33" fill="#a8c8ec"/>
<rect x="469.5" y="209.04" width="21.52" height="4.33" fill="#a8c8ec"/>
<rect x="491" y="209.04" width="21.52" height="4.33" fill="#eef2d8"/>
<rect x="383.5" y="213.35" width="21.52" height="4.33" fill="#a8c8ec"/>
<rect x="405" y="213.35" width="21.52" height="4.33" fill="#a8c8ec"/>
<rect x="426.5" y="213.35" width="21.52" height="4.33" fill="#a8c8ec"/>
<rect x="448" y="213.35" width="21.52" height="4.33" fill="#a8c8ec"/>
<rect x="469.5" y="213.35" width="21.52" height="4.33" fill="#a8c8ec"/>
<rect x="491" y="213.35" width="21.52" height="4.33" fill="#d0e4ea"/>
<rect x="383.5" y="217.66" width="21.52" height="4.33" fill="#a8c8ec"/>
<rect x="405" y="217.66" width="21.52" height="4.33" fill="#a8c8ec"/>
<rect x="426.5" y="217.66" width="21.52" height="4.33" fill="#92b8e4"/>
<rect x="448" y="217.66" width="21.52" height="4.33" fill="#92b8e4"/>
<rect x="469.5" y="217.66" width="21.52" height="4.33" fill="#92b8e4"/>
<rect x="491" y="217.66" width="21.52" height="4.33" fill="#d0e4ea"/>
<rect x="383.5" y="221.97" width="21.52" height="4.33" fill="#a8c8ec"/>
<rect x="405" y="221.97" width="21.52" height="4.33" fill="#a8c8ec"/>
<rect x="426.5" y="221.97" width="21.52" height="4.33" fill="#d0e4ea"/>
<rect x="448" y="221.97" width="21.52" height="4.33" fill="#eef2d8"/>
<rect x="469.5" y="221.97" width="21.52" height="4.33" fill="#d0e4ea"/>
<rect x="491" y="221.97" width="21.52" height="4.33" fill="#fdf0c0"/>
<rect x="383.5" y="226.28" width="21.52" height="4.33" fill="#92b8e4"/>
<rect x="405" y="226.28" width="21.52" height="4.33" fill="#a8c8ec"/>
<rect x="426.5" y="226.28" width="21.52" height="4.33" fill="#a8c8ec"/>
<rect x="448" y="226.28" width="21.52" height="4.33" fill="#a8c8ec"/>
<rect x="469.5" y="226.28" width="21.52" height="4.33" fill="#d0e4ea"/>
<rect x="491" y="226.28" width="21.52" height="4.33" fill="#eef2d8"/>
<rect x="383.5" y="230.59" width="21.52" height="4.33" fill="#92b8e4"/>
<rect x="405" y="230.59" width="21.52" height="4.33" fill="#a8c8ec"/>
<rect x="426.5" y="230.59" width="21.52" height="4.33" fill="#a8c8ec"/>
<rect x="448" y="230.59" width="21.52" height="4.33" fill="#d0e4ea"/>
<rect x="469.5" y="230.59" width="21.52" height="4.33" fill="#92b8e4"/>
<rect x="491" y="230.59" width="21.52" height="4.33" fill="#eef2d8"/>
<rect x="383.5" y="234.9" width="21.52" height="4.33" fill="#a8c8ec"/>
<rect x="405" y="234.9" width="21.52" height="4.33" fill="#92b8e4"/>
<rect x="426.5" y="234.9" width="21.52" height="4.33" fill="#a8c8ec"/>
<rect x="448" y="234.9" width="21.52" height="4.33" fill="#a8c8ec"/>
<rect x="469.5" y="234.9" width="21.52" height="4.33" fill="#d0e4ea"/>
<rect x="491" y="234.9" width="21.52" height="4.33" fill="#fdf0c0"/>
<rect x="383.5" y="239.21" width="21.52" height="4.33" fill="#d0e4ea"/>
<rect x="405" y="239.21" width="21.52" height="4.33" fill="#a8c8ec"/>
<rect x="426.5" y="239.21" width="21.52" height="4.33" fill="#92b8e4"/>
<rect x="448" y="239.21" width="21.52" height="4.33" fill="#1f5096"/>
<rect x="469.5" y="239.21" width="21.52" height="4.33" fill="#d0e4ea"/>
<rect x="491" y="239.21" width="21.52" height="4.33" fill="#eef2d8"/>
<rect x="383.5" y="243.51" width="21.52" height="4.33" fill="#d0e4ea"/>
<rect x="405" y="243.51" width="21.52" height="4.33" fill="#a8c8ec"/>
<rect x="426.5" y="243.51" width="21.52" height="4.33" fill="#a8c8ec"/>
<rect x="448" y="243.51" width="21.52" height="4.33" fill="#a8c8ec"/>
<rect x="469.5" y="243.51" width="21.52" height="4.33" fill="#d0e4ea"/>
<rect x="491" y="243.51" width="21.52" height="4.33" fill="#fdf0c0"/>
<rect x="383.5" y="247.82" width="21.52" height="4.33" fill="#92b8e4"/>
<rect x="405" y="247.82" width="21.52" height="4.33" fill="#a8c8ec"/>
<rect x="426.5" y="247.82" width="21.52" height="4.33" fill="#a8c8ec"/>
<rect x="448" y="247.82" width="21.52" height="4.33" fill="#d0e4ea"/>
<rect x="469.5" y="247.82" width="21.52" height="4.33" fill="#fdf0c0"/>
<rect x="491" y="247.82" width="21.52" height="4.33" fill="#fdf0c0"/>
<rect x="383.5" y="252.13" width="21.52" height="4.33" fill="#a8c8ec"/>
<rect x="405" y="252.13" width="21.52" height="4.33" fill="#a8c8ec"/>
<rect x="426.5" y="252.13" width="21.52" height="4.33" fill="#92b8e4"/>
<rect x="448" y="252.13" width="21.52" height="4.33" fill="#92b8e4"/>
<rect x="469.5" y="252.13" width="21.52" height="4.33" fill="#fdf0c0"/>
<rect x="491" y="252.13" width="21.52" height="4.33" fill="#fdf0c0"/>
<rect x="383.5" y="256.44" width="21.52" height="4.33" fill="#a8c8ec"/>
<rect x="405" y="256.44" width="21.52" height="4.33" fill="#a8c8ec"/>
<rect x="426.5" y="256.44" width="21.52" height="4.33" fill="#92b8e4"/>
<rect x="448" y="256.44" width="21.52" height="4.33" fill="#92b8e4"/>
<rect x="469.5" y="256.44" width="21.52" height="4.33" fill="#d0e4ea"/>
<rect x="491" y="256.44" width="21.52" height="4.33" fill="#fdf0c0"/>
<rect x="383.5" y="260.75" width="21.52" height="4.33" fill="#a8c8ec"/>
<rect x="405" y="260.75" width="21.52" height="4.33" fill="#d0e4ea"/>
<rect x="426.5" y="260.75" width="21.52" height="4.33" fill="#a8c8ec"/>
<rect x="448" y="260.75" width="21.52" height="4.33" fill="#a8c8ec"/>
<rect x="469.5" y="260.75" width="21.52" height="4.33" fill="#d0e4ea"/>
<rect x="491" y="260.75" width="21.52" height="4.33" fill="#fdf0c0"/>
<rect x="383.5" y="265.06" width="21.52" height="4.33" fill="#92b8e4"/>
<rect x="405" y="265.06" width="21.52" height="4.33" fill="#6494cc"/>
<rect x="426.5" y="265.06" width="21.52" height="4.33" fill="#1f5096"/>
<rect x="448" y="265.06" width="21.52" height="4.33" fill="#92b8e4"/>
<rect x="469.5" y="265.06" width="21.52" height="4.33" fill="#d0e4ea"/>
<rect x="491" y="265.06" width="21.52" height="4.33" fill="#fdf0c0"/>
<rect x="383.5" y="269.37" width="21.52" height="4.33" fill="#a8c8ec"/>
<rect x="405" y="269.37" width="21.52" height="4.33" fill="#a8c8ec"/>
<rect x="426.5" y="269.37" width="21.52" height="4.33" fill="#a8c8ec"/>
<rect x="448" y="269.37" width="21.52" height="4.33" fill="#a8c8ec"/>
<rect x="469.5" y="269.37" width="21.52" height="4.33" fill="#d0e4ea"/>
<rect x="491" y="269.37" width="21.52" height="4.33" fill="#fdf0c0"/>
<rect x="383.5" y="273.68" width="21.52" height="4.33" fill="#a8c8ec"/>
<rect x="405" y="273.68" width="21.52" height="4.33" fill="#a8c8ec"/>
<rect x="426.5" y="273.68" width="21.52" height="4.33" fill="#a8c8ec"/>
<rect x="448" y="273.68" width="21.52" height="4.33" fill="#92b8e4"/>
<rect x="469.5" y="273.68" width="21.52" height="4.33" fill="#fcd4a0"/>
<rect x="491" y="273.68" width="21.52" height="4.33" fill="#ec5444"/>
<rect x="383.5" y="277.99" width="21.52" height="4.33" fill="#eef2d8"/>
<rect x="405" y="277.99" width="21.52" height="4.33" fill="#a8c8ec"/>
<rect x="426.5" y="277.99" width="21.52" height="4.33" fill="#a8c8ec"/>
<rect x="448" y="277.99" width="21.52" height="4.33" fill="#d0e4ea"/>
<rect x="469.5" y="277.99" width="21.52" height="4.33" fill="#ec5444"/>
<rect x="491" y="277.99" width="21.52" height="4.33" fill="#e0181c"/>
<rect x="383.5" y="282.29" width="21.52" height="4.33" fill="#a8c8ec"/>
<rect x="405" y="282.29" width="21.52" height="4.33" fill="#a8c8ec"/>
<rect x="426.5" y="282.29" width="21.52" height="4.33" fill="#92b8e4"/>
<rect x="448" y="282.29" width="21.52" height="4.33" fill="#a8c8ec"/>
<rect x="469.5" y="282.29" width="21.52" height="4.33" fill="#f0845e"/>
<rect x="491" y="282.29" width="21.52" height="4.33" fill="#ec5444"/>
<rect x="383.5" y="286.6" width="21.52" height="4.33" fill="#a8c8ec"/>
<rect x="405" y="286.6" width="21.52" height="4.33" fill="#a8c8ec"/>
<rect x="426.5" y="286.6" width="21.52" height="4.33" fill="#92b8e4"/>
<rect x="448" y="286.6" width="21.52" height="4.33" fill="#a8c8ec"/>
<rect x="469.5" y="286.6" width="21.52" height="4.33" fill="#fdf0c0"/>
<rect x="491" y="286.6" width="21.52" height="4.33" fill="#ec5444"/>
<rect x="383.5" y="290.91" width="21.52" height="4.33" fill="#92b8e4"/>
<rect x="405" y="290.91" width="21.52" height="4.33" fill="#92b8e4"/>
<rect x="426.5" y="290.91" width="21.52" height="4.33" fill="#a8c8ec"/>
<rect x="448" y="290.91" width="21.52" height="4.33" fill="#a8c8ec"/>
<rect x="469.5" y="290.91" width="21.52" height="4.33" fill="#fcd4a0"/>
<rect x="491" y="290.91" width="21.52" height="4.33" fill="#f0845e"/>
<rect x="383.5" y="295.22" width="21.52" height="4.33" fill="#a8c8ec"/>
<rect x="405" y="295.22" width="21.52" height="4.33" fill="#92b8e4"/>
<rect x="426.5" y="295.22" width="21.52" height="4.33" fill="#92b8e4"/>
<rect x="448" y="295.22" width="21.52" height="4.33" fill="#a8c8ec"/>
<rect x="469.5" y="295.22" width="21.52" height="4.33" fill="#fdf0c0"/>
<rect x="491" y="295.22" width="21.52" height="4.33" fill="#f0845e"/>
<rect x="383.5" y="299.53" width="21.52" height="4.33" fill="#d0e4ea"/>
<rect x="405" y="299.53" width="21.52" height="4.33" fill="#a8c8ec"/>
<rect x="426.5" y="299.53" width="21.52" height="4.33" fill="#4a7cc0"/>
<rect x="448" y="299.53" width="21.52" height="4.33" fill="#4a7cc0"/>
<rect x="469.5" y="299.53" width="21.52" height="4.33" fill="#fcd4a0"/>
<rect x="491" y="299.53" width="21.52" height="4.33" fill="#f0845e"/>
<rect x="383.5" y="303.84" width="21.52" height="4.33" fill="#d0e4ea"/>
<rect x="405" y="303.84" width="21.52" height="4.33" fill="#92b8e4"/>
<rect x="426.5" y="303.84" width="21.52" height="4.33" fill="#92b8e4"/>
<rect x="448" y="303.84" width="21.52" height="4.33" fill="#a8c8ec"/>
<rect x="469.5" y="303.84" width="21.52" height="4.33" fill="#f0845e"/>
<rect x="491" y="303.84" width="21.52" height="4.33" fill="#f0845e"/>
<rect x="383.5" y="308.15" width="21.52" height="4.33" fill="#d0e4ea"/>
<rect x="405" y="308.15" width="21.52" height="4.33" fill="#a8c8ec"/>
<rect x="426.5" y="308.15" width="21.52" height="4.33" fill="#a8c8ec"/>
<rect x="448" y="308.15" width="21.52" height="4.33" fill="#a8c8ec"/>
<rect x="469.5" y="308.15" width="21.52" height="4.33" fill="#f0845e"/>
<rect x="491" y="308.15" width="21.52" height="4.33" fill="#e0181c"/>
<rect x="383.5" y="312.46" width="21.52" height="4.33" fill="#a8c8ec"/>
<rect x="405" y="312.46" width="21.52" height="4.33" fill="#6494cc"/>
<rect x="426.5" y="312.46" width="21.52" height="4.33" fill="#6494cc"/>
<rect x="448" y="312.46" width="21.52" height="4.33" fill="#d0e4ea"/>
<rect x="469.5" y="312.46" width="21.52" height="4.33" fill="#ec5444"/>
<rect x="491" y="312.46" width="21.52" height="4.33" fill="#ec5444"/>
<rect x="383.5" y="316.76" width="21.52" height="4.33" fill="#92b8e4"/>
<rect x="405" y="316.76" width="21.52" height="4.33" fill="#6494cc"/>
<rect x="426.5" y="316.76" width="21.52" height="4.33" fill="#92b8e4"/>
<rect x="448" y="316.76" width="21.52" height="4.33" fill="#a8c8ec"/>
<rect x="469.5" y="316.76" width="21.52" height="4.33" fill="#f0845e"/>
<rect x="491" y="316.76" width="21.52" height="4.33" fill="#f6a478"/>
<rect x="383.5" y="321.07" width="21.52" height="4.33" fill="#a8c8ec"/>
<rect x="405" y="321.07" width="21.52" height="4.33" fill="#92b8e4"/>
<rect x="426.5" y="321.07" width="21.52" height="4.33" fill="#92b8e4"/>
<rect x="448" y="321.07" width="21.52" height="4.33" fill="#92b8e4"/>
<rect x="469.5" y="321.07" width="21.52" height="4.33" fill="#fdf0c0"/>
<rect x="491" y="321.07" width="21.52" height="4.33" fill="#f6a478"/>
<rect x="383.5" y="325.38" width="21.52" height="4.33" fill="#a8c8ec"/>
<rect x="405" y="325.38" width="21.52" height="4.33" fill="#92b8e4"/>
<rect x="426.5" y="325.38" width="21.52" height="4.33" fill="#6494cc"/>
<rect x="448" y="325.38" width="21.52" height="4.33" fill="#92b8e4"/>
<rect x="469.5" y="325.38" width="21.52" height="4.33" fill="#f6a478"/>
<rect x="491" y="325.38" width="21.52" height="4.33" fill="#e0181c"/>
<rect x="383.5" y="329.69" width="21.52" height="4.33" fill="#a8c8ec"/>
<rect x="405" y="329.69" width="21.52" height="4.33" fill="#92b8e4"/>
<rect x="426.5" y="329.69" width="21.52" height="4.33" fill="#4a7cc0"/>
<rect x="448" y="329.69" width="21.52" height="4.33" fill="#a8c8ec"/>
<rect x="469.5" y="329.69" width="21.52" height="4.33" fill="#f6a478"/>
<rect x="491" y="329.69" width="21.52" height="4.33" fill="#e0181c"/>
</svg>
<div class="ln" style="left:13.9px;width:48.4px"></div>
<div class="ln" style="left:77.6px;width:54.7px"></div>
<div class="ln" style="left:208.9px;width:47.1px"></div>
<div class="ln" style="left:271.4px;width:55.7px"></div>
<div class="ln" style="left:389.8px;width:47.8px"></div>
<div class="ln" style="left:452.3px;width:55.7px"></div>
<div class="L" style="left:8.1px;top:8.6px">A</div>
<div class="L" style="left:151.6px;top:9.6px">B</div>
<div class="L" style="left:347.8px;top:9.6px">C</div>
<div class="H c" style="left:38.8px">ADP</div>
<div class="H c" style="left:104.9px">30 s ADP + Iloprost</div>
<div class="S c" style="left:18.05px">10 s</div>
<div class="S c" style="left:39.25px">30 s</div>
<div class="S c" style="left:61.1px">60 s</div>
<div class="S c" style="left:82.3px"><sup>+</sup>0 s</div>
<div class="S c" style="left:104.05px"><sup>+</sup>30 s</div>
<div class="S c" style="left:126.6px"><sup>+</sup>60 s</div>
<div class="H c" style="left:233px">ADP</div>
<div class="H c" style="left:299px">30 s ADP + Iloprost</div>
<div class="S c" style="left:212.8px">10 s</div>
<div class="S c" style="left:233.6px">30 s</div>
<div class="S c" style="left:255.9px">60 s</div>
<div class="S c" style="left:277.25px"><sup>+</sup>0 s</div>
<div class="S c" style="left:297.65px"><sup>+</sup>30 s</div>
<div class="S c" style="left:320.5px"><sup>+</sup>60 s</div>
<div class="H c" style="left:413.6px">ADP</div>
<div class="H c" style="left:480px">30 s ADP + Iloprost</div>
<div class="S c" style="left:394.25px">10 s</div>
<div class="S c" style="left:414.9px">30 s</div>
<div class="S c" style="left:437.4px">60 s</div>
<div class="S c" style="left:458.3px"><sup>+</sup>0 s</div>
<div class="S c" style="left:479.15px"><sup>+</sup>30 s</div>
<div class="S c" style="left:501.7px"><sup>+</sup>60 s</div>
<div class="lbw"><div class="lb" style="left:147.3px;transform:translateY(41.33px) rotate(0.05deg) scaleX(0.96)">DAPP1;276</div>
<div class="lb" style="left:147.3px;transform:translateY(45.98px) rotate(0.05deg) scaleX(0.96)">LIMD2;29</div>
<div class="lb" style="left:147.3px;transform:translateY(50.63px) rotate(0.05deg) scaleX(0.96)">HMHA1;14</div>
<div class="lb" style="left:147.3px;transform:translateY(55.28px) rotate(0.05deg) scaleX(0.96)">PACSI;519</div>
<div class="lb" style="left:147.3px;transform:translateY(59.93px) rotate(0.05deg) scaleX(0.96)">PRKCD;218</div>
<div class="lb" style="left:147.3px;transform:translateY(64.58px) rotate(0.05deg) scaleX(0.96)">SDPR;241</div>
<div class="lb" style="left:147.3px;transform:translateY(69.23px) rotate(0.05deg) scaleX(0.96)">ROCK2;1374</div>
<div class="lb" style="left:147.3px;transform:translateY(73.88px) rotate(0.05deg) scaleX(0.96)">KIF2A;97</div>
<div class="lb" style="left:147.3px;transform:translateY(78.53px) rotate(0.05deg) scaleX(0.96)">DNM1L;529</div>
<div class="lb" style="left:147.3px;transform:translateY(83.18px) rotate(0.05deg) scaleX(0.96)">ANKS1A;630</div>
<div class="lb" style="left:147.3px;transform:translateY(87.83px) rotate(0.05deg) scaleX(0.96)">FRMD8;439</div>
<div class="lb" style="left:147.3px;transform:translateY(92.48px) rotate(0.05deg) scaleX(0.96)">UBE2O;1243</div>
<div class="lb" style="left:147.3px;transform:translateY(97.13px) rotate(0.05deg) scaleX(0.96)">SLC4A1;796</div>
<div class="lb" style="left:147.3px;transform:translateY(101.79px) rotate(0.05deg) scaleX(0.96)">ITPR2;49</div>
<div class="lb" style="left:147.3px;transform:translateY(106.44px) rotate(0.05deg) scaleX(0.96)">BIN2;263</div>
<div class="lb" style="left:147.3px;transform:translateY(111.09px) rotate(0.05deg) scaleX(0.96)">SCARF1;610/ 611</div>
<div class="lb" style="left:147.3px;transform:translateY(115.74px) rotate(0.05deg) scaleX(0.96)">SCARF1;611</div>
<div class="lb" style="left:147.3px;transform:translateY(120.39px) rotate(0.05deg) scaleX(0.96)">OXSR1;359</div>
<div class="lb" style="left:147.3px;transform:translateY(125.04px) rotate(0.05deg) scaleX(0.96)">SEC16A;1176</div>
<div class="lb" style="left:147.3px;transform:translateY(129.69px) rotate(0.05deg) scaleX(0.96)">FAM20B;321</div>
<div class="lb" style="left:147.3px;transform:translateY(134.34px) rotate(0.05deg) scaleX(0.96)">RAP1GAP2;23</div>
<div class="lb" style="left:147.3px;transform:translateY(138.99px) rotate(0.05deg) scaleX(0.96)">MYLK;1759/ 1760</div>
<div class="lb" style="left:147.3px;transform:translateY(143.64px) rotate(0.05deg) scaleX(0.96)">SNTN;301</div>
<div class="lb" style="left:147.3px;transform:translateY(148.29px) rotate(0.05deg) scaleX(0.96)">EXOC3L4;52</div>
<div class="lb" style="left:147.3px;transform:translateY(152.94px) rotate(0.05deg) scaleX(0.96)">PTPN12;867</div>
<div class="lb" style="left:147.3px;transform:translateY(157.6px) rotate(0.05deg) scaleX(0.96)">UFD1L;299</div>
<div class="lb" style="left:147.3px;transform:translateY(162.25px) rotate(0.05deg) scaleX(0.96)">HUWE1;2540</div>
<div class="lb" style="left:147.3px;transform:translateY(166.9px) rotate(0.05deg) scaleX(0.96)">OPHN1;703</div>
<div class="lb" style="left:147.3px;transform:translateY(171.55px) rotate(0.05deg) scaleX(0.96)">TLN1;446</div>
<div class="lb" style="left:147.3px;transform:translateY(176.2px) rotate(0.05deg) scaleX(0.96)">KIF2A;100</div>
<div class="lb" style="left:147.3px;transform:translateY(180.85px) rotate(0.05deg) scaleX(0.96)">SDPR;296</div>
<div class="lb" style="left:147.3px;transform:translateY(185.5px) rotate(0.05deg) scaleX(0.96)">SYK;297</div>
<div class="lb" style="left:147.3px;transform:translateY(190.15px) rotate(0.05deg) scaleX(0.96)">WRNIP1;153</div>
<div class="lb" style="left:147.3px;transform:translateY(194.8px) rotate(0.05deg) scaleX(0.96)">PAWR;162/ 163</div>
<div class="lb" style="left:147.3px;transform:translateY(199.45px) rotate(0.05deg) scaleX(0.96)">EXOC1;470</div>
<div class="lb" style="left:147.3px;transform:translateY(204.1px) rotate(0.05deg) scaleX(0.96)">TAOK1;440</div>
<div class="lb" style="left:147.3px;transform:translateY(208.75px) rotate(0.05deg) scaleX(0.96)">TLN1;450</div>
<div class="lb" style="left:147.3px;transform:translateY(213.4px) rotate(0.05deg) scaleX(0.96)">TNIK;902</div>
<div class="lb" style="left:147.3px;transform:translateY(218.06px) rotate(0.05deg) scaleX(0.96)">ERBB2IP;465</div>
<div class="lb" style="left:147.3px;transform:translateY(222.71px) rotate(0.05deg) scaleX(0.96)">RAP1GAP2;607/ 608</div>
<div class="lb" style="left:147.3px;transform:translateY(227.36px) rotate(0.05deg) scaleX(0.96)">STK4;340</div>
<div class="lb" style="left:147.3px;transform:translateY(232.01px) rotate(0.05deg) scaleX(0.96)">P2RX1;389</div>
<div class="lb" style="left:147.3px;transform:translateY(236.66px) rotate(0.05deg) scaleX(0.96)">DGKG;762</div>
<div class="lb" style="left:147.3px;transform:translateY(241.31px) rotate(0.05deg) scaleX(0.96)">LIMS1;321</div>
<div class="lb" style="left:147.3px;transform:translateY(245.96px) rotate(0.05deg) scaleX(0.96)">MYCBP2;3440</div>
<div class="lb" style="left:147.3px;transform:translateY(250.61px) rotate(0.05deg) scaleX(0.96)">FCER1G;78</div>
<div class="lb" style="left:147.3px;transform:translateY(255.26px) rotate(0.05deg) scaleX(0.96)">TSG101;220</div>
<div class="lb" style="left:147.3px;transform:translateY(259.91px) rotate(0.05deg) scaleX(0.96)">KIF13B;1793</div>
<div class="lb" style="left:147.3px;transform:translateY(264.56px) rotate(0.05deg) scaleX(0.96)">CARD6;460</div>
<div class="lb" style="left:147.3px;transform:translateY(269.21px) rotate(0.05deg) scaleX(0.96)">SCRIB;1508</div>
<div class="lb" style="left:147.3px;transform:translateY(273.87px) rotate(0.05deg) scaleX(0.96)">DNM1;774</div>
<div class="lb" style="left:147.3px;transform:translateY(278.52px) rotate(0.05deg) scaleX(0.96)">ADRA2A;331</div>
<div class="lb" style="left:147.3px;transform:translateY(283.17px) rotate(0.05deg) scaleX(0.96)">FHOD1;510</div>
<div class="lb" style="left:147.3px;transform:translateY(287.82px) rotate(0.05deg) scaleX(0.96)">SDPR;293/ 296</div>
<div class="lb" style="left:147.3px;transform:translateY(292.47px) rotate(0.05deg) scaleX(0.96)">SH3GL1;288</div>
<div class="lb" style="left:147.3px;transform:translateY(297.12px) rotate(0.05deg) scaleX(0.96)">TWF2;167</div>
<div class="lb" style="left:147.3px;transform:translateY(301.77px) rotate(0.05deg) scaleX(0.96)">PPP1R3E;20</div>
<div class="lb" style="left:147.3px;transform:translateY(306.42px) rotate(0.05deg) scaleX(0.96)">LRRCKD;200</div>
<div class="lb" style="left:147.3px;transform:translateY(311.07px) rotate(0.05deg) scaleX(0.96)">STXBP5;765</div>
<div class="lb" style="left:147.3px;transform:translateY(315.72px) rotate(0.05deg) scaleX(0.96)">GRIPAP1;567</div>
<div class="lb" style="left:147.3px;transform:translateY(320.37px) rotate(0.05deg) scaleX(0.96)">GIGYF1;536</div>
<div class="lb" style="left:147.3px;transform:translateY(325.02px) rotate(0.05deg) scaleX(0.96)">VASP;322/ 323/ 324/ 325</div>
<div class="lb" style="left:147.3px;transform:translateY(329.67px) rotate(0.05deg) scaleX(0.96)">SHROOM4;890</div>
<div class="lb" style="left:341.3px;transform:translateY(40.45px) rotate(0.05deg) scaleX(0.96)">MRVI1;657</div>
<div class="lb" style="left:341.3px;transform:translateY(44.76px) rotate(0.05deg) scaleX(0.96)">UBE2O;515</div>
<div class="lb" style="left:341.3px;transform:translateY(49.07px) rotate(0.05deg) scaleX(0.96)">RASGRP2;116</div>
<div class="lb" style="left:341.3px;transform:translateY(53.38px) rotate(0.05deg) scaleX(0.96)">PDE3A;311/ 312</div>
<div class="lb" style="left:341.3px;transform:translateY(57.69px) rotate(0.05deg) scaleX(0.96)">ENSA;109</div>
<div class="lb" style="left:341.3px;transform:translateY(62px) rotate(0.05deg) scaleX(0.96)">RASGRP2;587</div>
<div class="lb" style="left:341.3px;transform:translateY(66.31px) rotate(0.05deg) scaleX(0.96)">ENSA;108/ 109</div>
<div class="lb" style="left:341.3px;transform:translateY(70.62px) rotate(0.05deg) scaleX(0.96)">ARPP19;104</div>
<div class="lb" style="left:341.3px;transform:translateY(74.92px) rotate(0.05deg) scaleX(0.96)">DAPP1;141</div>
<div class="lb" style="left:341.3px;transform:translateY(79.23px) rotate(0.05deg) scaleX(0.96)">CCNY;83</div>
<div class="lb" style="left:341.3px;transform:translateY(83.54px) rotate(0.05deg) scaleX(0.96)">FAM65A;461</div>
<div class="lb" style="left:341.3px;transform:translateY(87.85px) rotate(0.05deg) scaleX(0.96)">MRVI1;267</div>
<div class="lb" style="left:341.3px;transform:translateY(92.16px) rotate(0.05deg) scaleX(0.96)">TC2N;108</div>
<div class="lb" style="left:341.3px;transform:translateY(96.47px) rotate(0.05deg) scaleX(0.96)">FAM129B;268</div>
<div class="lb" style="left:341.3px;transform:translateY(100.78px) rotate(0.05deg) scaleX(0.96)">IQGAP2;16</div>
<div class="lb" style="left:341.3px;transform:translateY(105.09px) rotate(0.05deg) scaleX(0.96)">FCER1G;66</div>
<div class="lb" style="left:341.3px;transform:translateY(109.4px) rotate(0.05deg) scaleX(0.96)">AMPD2;76</div>
<div class="lb" style="left:341.3px;transform:translateY(113.7px) rotate(0.05deg) scaleX(0.96)">PANK2;109</div>
<div class="lb" style="left:341.3px;transform:translateY(118.01px) rotate(0.05deg) scaleX(0.96)">C17orf59;180</div>
<div class="lb" style="left:341.3px;transform:translateY(122.32px) rotate(0.05deg) scaleX(0.96)">PLEKHO2;432</div>
<div class="lb" style="left:341.3px;transform:translateY(126.63px) rotate(0.05deg) scaleX(0.96)">TAB3;645</div>
<div class="lb" style="left:341.3px;transform:translateY(130.94px) rotate(0.05deg) scaleX(0.96)">RASGRP2;117</div>
<div class="lb" style="left:341.3px;transform:translateY(135.25px) rotate(0.05deg) scaleX(0.96)">CHST1;293</div>
<div class="lb" style="left:341.3px;transform:translateY(139.56px) rotate(0.05deg) scaleX(0.96)">TJAP1;545</div>
<div class="lb" style="left:341.3px;transform:translateY(143.87px) rotate(0.05deg) scaleX(0.96)">PLEC;4306</div>
<div class="lb" style="left:341.3px;transform:translateY(148.18px) rotate(0.05deg) scaleX(0.96)">ARHGEF6;684</div>
<div class="lb" style="left:341.3px;transform:translateY(152.48px) rotate(0.05deg) scaleX(0.96)">RASA3;90</div>
<div class="lb" style="left:341.3px;transform:translateY(156.79px) rotate(0.05deg) scaleX(0.96)">ITPR1;1598</div>
<div class="lb" style="left:341.3px;transform:translateY(161.1px) rotate(0.05deg) scaleX(0.96)">SCARF1;610/ 611</div>
<div class="lb" style="left:341.3px;transform:translateY(165.41px) rotate(0.05deg) scaleX(0.96)">LRBIP;459/ 461</div>
<div class="lb" style="left:341.3px;transform:translateY(169.72px) rotate(0.05deg) scaleX(0.96)">LRBIP;461</div>
<div class="lb" style="left:341.3px;transform:translateY(174.03px) rotate(0.05deg) scaleX(0.96)">DNM2</div>
<div class="lb" style="left:341.3px;transform:translateY(178.34px) rotate(0.05deg) scaleX(0.96)">MARK3;418/ 419</div>
<div class="lb" style="left:341.3px;transform:translateY(182.65px) rotate(0.05deg) scaleX(0.96)">TBKAB1;301</div>
<div class="lb" style="left:341.3px;transform:translateY(186.95px) rotate(0.05deg) scaleX(0.96)">KALRN;1789/ 1817</div>
<div class="lb" style="left:341.3px;transform:translateY(191.26px) rotate(0.05deg) scaleX(0.96)">ABLIM3;276/ 277</div>
<div class="lb" style="left:341.3px;transform:translateY(195.57px) rotate(0.05deg) scaleX(0.96)">SHROOM4;1059</div>
<div class="lb" style="left:341.3px;transform:translateY(199.88px) rotate(0.05deg) scaleX(0.96)">RGCC;80</div>
<div class="lb" style="left:341.3px;transform:translateY(204.19px) rotate(0.05deg) scaleX(0.96)">GAS2L1;346</div>
<div class="lb" style="left:341.3px;transform:translateY(208.5px) rotate(0.05deg) scaleX(0.96)">RCHY1;257</div>
<div class="lb" style="left:341.3px;transform:translateY(212.81px) rotate(0.05deg) scaleX(0.96)">HMHA1;57/ 578</div>
<div class="lb" style="left:341.3px;transform:translateY(217.12px) rotate(0.05deg) scaleX(0.96)">HMHA1;578</div>
<div class="lb" style="left:341.3px;transform:translateY(221.43px) rotate(0.05deg) scaleX(0.96)">CNRIP1;560</div>
<div class="lb" style="left:341.3px;transform:translateY(225.73px) rotate(0.05deg) scaleX(0.96)">BCYL2;677</div>
<div class="lb" style="left:341.3px;transform:translateY(230.04px) rotate(0.05deg) scaleX(0.96)">DENND4C;505</div>
<div class="lb" style="left:341.3px;transform:translateY(234.35px) rotate(0.05deg) scaleX(0.96)">FNBP1L;455/ 459</div>
<div class="lb" style="left:341.3px;transform:translateY(238.66px) rotate(0.05deg) scaleX(0.96)">HTT;417/ 419; 432</div>
<div class="lb" style="left:341.3px;transform:translateY(242.97px) rotate(0.05deg) scaleX(0.96)">SPN;355</div>
<div class="lb" style="left:341.3px;transform:translateY(247.28px) rotate(0.05deg) scaleX(0.96)">FGA;435/ 436</div>
<div class="lb" style="left:341.3px;transform:translateY(251.59px) rotate(0.05deg) scaleX(0.96)">ABLIM3;503</div>
<div class="lb" style="left:341.3px;transform:translateY(255.9px) rotate(0.05deg) scaleX(0.96)">ABLIM3;372</div>
<div class="lb" style="left:341.3px;transform:translateY(260.2px) rotate(0.05deg) scaleX(0.96)">KALRN;1789</div>
<div class="lb" style="left:341.3px;transform:translateY(264.51px) rotate(0.05deg) scaleX(0.96)">UBE2J1;266</div>
<div class="lb" style="left:341.3px;transform:translateY(268.82px) rotate(0.05deg) scaleX(0.96)">BCKDK;31</div>
<div class="lb" style="left:341.3px;transform:translateY(273.13px) rotate(0.05deg) scaleX(0.96)">SLAIN2;391</div>
<div class="lb" style="left:341.3px;transform:translateY(277.44px) rotate(0.05deg) scaleX(0.96)">EHD2;27</div>
<div class="lb" style="left:341.3px;transform:translateY(281.75px) rotate(0.05deg) scaleX(0.96)">STXBP5;759</div>
<div class="lb" style="left:341.3px;transform:translateY(286.06px) rotate(0.05deg) scaleX(0.96)">SCARF1;606</div>
<div class="lb" style="left:341.3px;transform:translateY(290.37px) rotate(0.05deg) scaleX(0.96)">CDK17;180</div>
<div class="lb" style="left:341.3px;transform:translateY(294.68px) rotate(0.05deg) scaleX(0.96)">ABLIM3;277</div>
<div class="lb" style="left:341.3px;transform:translateY(298.98px) rotate(0.05deg) scaleX(0.96)">ENSA;108</div>
<div class="lb" style="left:341.3px;transform:translateY(303.29px) rotate(0.05deg) scaleX(0.96)">MTSS1;271/ 272</div>
<div class="lb" style="left:341.3px;transform:translateY(307.6px) rotate(0.05deg) scaleX(0.96)">CLDN5;207</div>
<div class="lb" style="left:341.3px;transform:translateY(311.91px) rotate(0.05deg) scaleX(0.96)">SCARF1;589</div>
<div class="lb" style="left:341.3px;transform:translateY(316.22px) rotate(0.05deg) scaleX(0.96)">MRVI1;635</div>
<div class="lb" style="left:341.3px;transform:translateY(320.53px) rotate(0.05deg) scaleX(0.96)">FKBP15;307</div>
<div class="lb" style="left:341.3px;transform:translateY(324.84px) rotate(0.05deg) scaleX(0.96)">MYO9B;1354</div>
<div class="lb" style="left:341.3px;transform:translateY(329.15px) rotate(0.05deg) scaleX(0.96)">MYO9B;1353/ 1354</div></div>
<div class="bd" style="left:0;top:1px;width:520px;height:1px;background:#d8d8d8"></div>
<div class="bd" style="left:1px;top:0;width:1px;height:340px;background:#cfcfcf"></div>
<div class="bd" style="left:518px;top:0;width:1px;height:340px;background:#7a7a7a"></div>
<div class="bd" style="left:0;top:338px;width:520px;height:1px;background:#3a3a3a"></div>
<div class="bd" style="left:0;top:0;width:520px;height:1px"></div>
<div class="bd" style="left:0;top:0;width:1px;height:340px"></div>
<div class="bd" style="left:519px;top:0;width:1px;height:340px"></div>
<div class="bd" style="left:0;top:339px;width:520px;height:1px"></div>
</body></html>
